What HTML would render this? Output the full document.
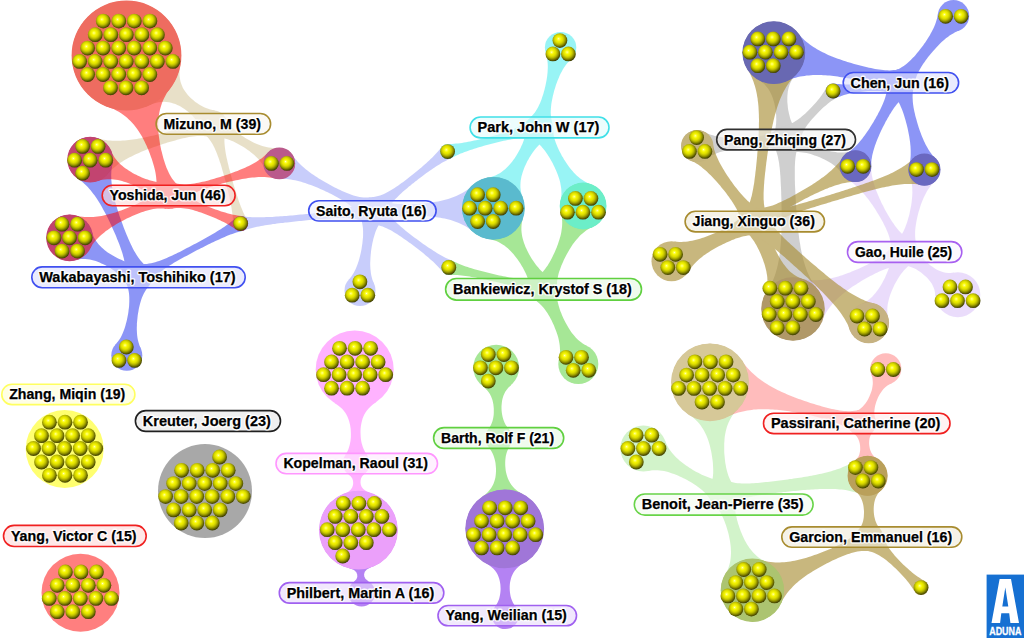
<!DOCTYPE html>
<html><head><meta charset="utf-8"><title>Cluster Map</title>
<style>
html,body{margin:0;padding:0;background:#fff;}
body{width:1024px;height:638px;overflow:hidden;font-family:"Liberation Sans",sans-serif;}
svg{display:block;}
svg text{font-family:"Liberation Sans",sans-serif;font-weight:bold;font-size:15px;}
svg text.h{fill:#fff;stroke:#fff;stroke-width:3px;stroke-linejoin:round;opacity:0.9;}
svg text.t{fill:#000;stroke:#000;stroke-width:0.25px;}
</style></head><body>
<svg width="1024" height="638" viewBox="0 0 1024 638">
<defs>
<radialGradient id="bg" cx="0.45" cy="0.41" r="0.62" fx="0.41" fy="0.38">
<stop offset="0" stop-color="#ffffe8"/><stop offset="0.07" stop-color="#ffff60"/><stop offset="0.25" stop-color="#f4f400"/>
<stop offset="0.42" stop-color="#e0e000"/><stop offset="0.58" stop-color="#bcbc00"/><stop offset="0.72" stop-color="#8e8e00"/><stop offset="0.85" stop-color="#5e5e00"/><stop offset="1" stop-color="#2e2e00"/>
</radialGradient>
<circle id="b" r="7.4" fill="url(#bg)"/>
</defs>
<rect width="1024" height="638" fill="#fff"/>
<g fill="#a88c30" opacity="0.26"><circle cx="126.5" cy="55.5" r="54.5"/><polygon points="180.2,64.9 179.7,68.9 179.5,72.5 179.5,75.7 179.9,78.6 180.4,81.2 181.1,83.6 182,85.8 182.9,87.9 184,89.8 185.2,91.6 186.5,93.3 187.8,94.9 189.2,96.4 190.7,97.9 192.2,99.3 193.7,100.6 195.3,101.9 197,103.1 198.7,104.2 200.4,105.3 202.2,106.3 204.1,107.3 206,108.1 208.1,108.8 210.2,109.5 212.4,109.9 214.7,110.3 213.4,123.9 200.5,128.4 199.6,126.2 198.6,124.1 197.5,122.2 196.3,120.5 195,118.8 193.7,117.2 192.3,115.6 190.8,114.2 189.3,112.8 187.8,111.5 186.1,110.2 184.5,109 182.8,107.9 181,106.8 179.2,105.8 177.3,104.9 175.4,104.1 173.4,103.4 171.2,102.7 169,102.3 166.7,102 164.2,101.8 161.5,101.9 158.6,102.3 155.5,103 152,104 148.3,105.5 126.5,55.5"/><circle cx="90.2" cy="159.6" r="22.5"/><polygon points="96.8,138.1 99.1,138.7 101.3,139.3 103.5,139.7 105.7,140.1 107.9,140.4 110.1,140.6 112.2,140.7 114.4,140.8 116.5,140.8 118.6,140.8 120.6,140.7 122.7,140.6 124.8,140.5 126.8,140.3 128.9,140.1 130.9,139.8 132.9,139.5 134.9,139.2 136.9,138.9 138.9,138.6 140.9,138.2 142.9,137.8 144.9,137.4 146.9,137 148.9,136.6 150.8,136.1 152.8,135.7 154.8,135.2 156.7,134.7 158.7,134.2 160.6,133.7 162.6,133.2 164.5,132.7 166.5,132.1 168.4,131.6 170.4,131 172.3,130.4 174.2,129.8 176.1,129.2 178.1,128.6 180,127.9 181.9,127.3 183.8,126.6 185.7,125.8 187.5,125 189.4,124.2 191.3,123.3 193.1,122.4 194.9,121.4 196.7,120.3 198.4,119.1 200.1,117.7 201.8,116.3 203.4,114.6 213.4,123.9 209.9,137 207.7,136.5 205.5,136.2 203.3,136 201.2,135.9 199.1,135.9 197,136 195,136.2 193,136.5 190.9,136.8 188.9,137.1 186.9,137.5 185,137.9 183,138.3 181,138.8 179.1,139.3 177.1,139.8 175.2,140.4 173.2,140.9 171.3,141.5 169.4,142 167.4,142.6 165.5,143.2 163.6,143.8 161.6,144.4 159.7,145.1 157.8,145.7 155.9,146.4 154,147 152.1,147.7 150.2,148.4 148.3,149.1 146.4,149.8 144.5,150.6 142.6,151.3 140.8,152.1 138.9,152.9 137,153.7 135.2,154.6 133.3,155.4 131.5,156.4 129.6,157.3 127.8,158.3 126,159.3 124.2,160.3 122.4,161.4 120.7,162.6 118.9,163.8 117.2,165 115.5,166.4 113.8,167.8 112.1,169.3 110.5,170.8 108.8,172.5 107.3,174.3 90.2,159.6"/><circle cx="279.3" cy="163.4" r="15.5"/><polygon points="265,169.4 263.9,167.2 262.8,165.1 261.5,163.1 260.2,161.3 258.8,159.6 257.3,158 255.8,156.5 254.3,155.1 252.7,153.7 251.1,152.4 249.4,151.1 247.8,149.9 246.1,148.7 244.3,147.6 242.6,146.5 240.8,145.4 239,144.4 237.2,143.4 235.3,142.5 233.5,141.6 231.5,140.8 229.6,140 227.6,139.3 225.6,138.7 223.5,138.2 221.3,137.8 219.1,137.5 216.7,137.4 214.3,137.5 213.4,123.9 225.8,118.3 226.9,120.5 228.1,122.5 229.4,124.3 230.8,126 232.2,127.6 233.7,129.1 235.3,130.6 236.9,131.9 238.5,133.2 240.1,134.5 241.8,135.7 243.6,136.8 245.3,137.9 247.1,139 248.9,140 250.7,141 252.5,142 254.4,142.9 256.3,143.7 258.2,144.5 260.2,145.3 262.2,146 264.2,146.6 266.3,147.1 268.5,147.5 270.7,147.8 273,148 275.4,148.1 277.9,147.9 279.3,163.4"/><circle cx="240.6" cy="223.6" r="7.5"/><polygon points="233.1,223.7 233,221.6 232.9,219.5 232.8,217.4 232.6,215.3 232.3,213.3 232,211.3 231.7,209.2 231.4,207.2 231,205.2 230.7,203.2 230.3,201.2 229.8,199.2 229.4,197.2 228.9,195.2 228.5,193.2 228,191.2 227.5,189.2 227,187.2 226.5,185.3 226,183.3 225.5,181.3 225,179.3 224.5,177.4 223.9,175.4 223.4,173.4 222.8,171.5 222.2,169.5 221.7,167.6 221.1,165.6 220.5,163.6 219.8,161.7 219.2,159.8 218.5,157.8 217.8,155.9 217.1,154 216.3,152.1 215.5,150.2 214.7,148.3 213.8,146.4 212.8,144.6 211.7,142.8 210.6,141 209.3,139.2 207.9,137.5 206.3,135.8 204.6,134.1 213.4,123.9 226.2,128.2 225.5,130.5 225,132.8 224.7,135 224.5,137.2 224.4,139.3 224.4,141.4 224.5,143.5 224.7,145.6 224.9,147.6 225.2,149.7 225.5,151.7 225.8,153.7 226.2,155.7 226.6,157.7 227.1,159.7 227.5,161.7 228,163.7 228.5,165.7 228.9,167.7 229.5,169.7 230,171.6 230.5,173.6 231,175.6 231.6,177.5 232.1,179.5 232.7,181.5 233.2,183.4 233.8,185.4 234.4,187.3 235,189.3 235.6,191.3 236.2,193.2 236.8,195.1 237.5,197.1 238.1,199 238.8,201 239.5,202.9 240.2,204.8 240.9,206.7 241.7,208.6 242.5,210.5 243.3,212.4 244.2,214.3 245.1,216.2 246.1,218 247.1,219.8 240.6,223.6"/><circle cx="213.4" cy="123.9" r="13.5"/></g>
<g fill="#202020" opacity="0.21"><circle cx="773.8" cy="52.7" r="31"/><polygon points="796.4,73.9 794.4,76.3 792.8,78.5 791.4,80.8 790.3,83 789.4,85.2 788.8,87.3 788.2,89.4 787.8,91.5 787.6,93.6 787.4,95.7 787.3,97.7 787.3,99.8 787.3,101.8 787.5,103.8 787.7,105.8 787.9,107.9 788.2,109.9 788.6,111.8 789,113.8 789.5,115.8 790,117.8 790.6,119.7 791.4,121.7 792.2,123.6 793.1,125.5 794.1,127.4 795.3,129.3 796.7,131.1 786.1,139.7 773.5,134.4 774.4,132.3 775,130.1 775.5,128 775.8,125.9 776.1,123.8 776.2,121.8 776.3,119.7 776.2,117.7 776.2,115.6 776,113.6 775.8,111.6 775.5,109.6 775.2,107.6 774.8,105.6 774.4,103.6 773.9,101.7 773.3,99.7 772.7,97.7 771.9,95.8 771.1,93.9 770.1,92 769,90.1 767.8,88.2 766.3,86.4 764.7,84.6 762.7,82.8 760.5,81.1 757.9,79.4 773.8,52.7"/><circle cx="833.1" cy="91" r="7.5"/><polygon points="836.7,97.6 834.9,98.7 833.1,99.9 831.3,101.1 829.6,102.3 828,103.6 826.4,104.9 824.8,106.2 823.2,107.6 821.7,109 820.2,110.4 818.7,111.9 817.3,113.4 815.9,114.9 814.5,116.4 813.1,117.9 811.7,119.5 810.4,121.1 809.1,122.7 807.8,124.3 806.6,126 805.4,127.8 804.3,129.6 803.3,131.4 802.3,133.4 801.4,135.4 800.6,137.5 800,139.7 799.4,142.1 786.1,139.7 783.3,126.5 785.6,125.9 787.8,125.1 789.9,124.3 791.9,123.3 793.8,122.2 795.6,121.1 797.3,119.9 799,118.7 800.7,117.4 802.3,116.1 803.9,114.8 805.4,113.4 806.9,112 808.4,110.5 809.9,109.1 811.3,107.6 812.7,106.1 814.1,104.6 815.5,103 816.8,101.4 818.2,99.8 819.5,98.2 820.7,96.6 821.9,94.9 823.1,93.1 824.2,91.4 825.3,89.5 826.3,87.6 833.1,91"/><circle cx="697.2" cy="146" r="15.7"/><polygon points="704.3,132 706.5,133 708.6,133.9 710.7,134.7 712.8,135.3 714.9,135.9 717,136.3 719,136.8 721.1,137.1 723.2,137.4 725.2,137.6 727.3,137.8 729.4,137.9 731.4,138 733.5,138.1 735.5,138.1 737.6,138.1 739.6,138.1 741.7,138 743.7,137.9 745.7,137.8 747.8,137.7 749.8,137.5 751.9,137.3 753.9,137.1 755.9,136.8 757.9,136.5 760,136.1 762,135.7 764,135.2 766,134.6 768,134 770,133.2 772,132.4 774,131.4 775.9,130.2 777.9,128.8 786.1,139.7 779.5,151.6 777.4,150.5 775.3,149.7 773.2,148.9 771.1,148.4 769,147.9 766.9,147.5 764.9,147.3 762.8,147.1 760.7,146.9 758.7,146.9 756.6,146.8 754.6,146.9 752.5,146.9 750.5,147 748.5,147.1 746.4,147.3 744.4,147.4 742.3,147.6 740.3,147.9 738.3,148.1 736.2,148.4 734.2,148.7 732.2,149.1 730.2,149.5 728.2,149.9 726.1,150.4 724.1,150.9 722.1,151.4 720.1,152.1 718.1,152.8 716.1,153.5 714.1,154.4 712.1,155.3 710.2,156.4 708.2,157.5 706.3,158.8 697.2,146"/><circle cx="793" cy="309" r="31.3"/><polygon points="766.9,291.7 768.2,289.7 769.4,287.6 770.6,285.5 771.6,283.5 772.5,281.4 773.4,279.3 774.2,277.3 774.9,275.2 775.6,273.2 776.2,271.1 776.8,269.1 777.3,267.1 777.8,265 778.2,263 778.6,260.9 779,258.9 779.3,256.9 779.6,254.8 779.8,252.8 780.1,250.8 780.3,248.7 780.5,246.7 780.7,244.7 780.8,242.7 781,240.6 781.1,238.6 781.2,236.6 781.3,234.6 781.4,232.5 781.4,230.5 781.5,228.5 781.5,226.5 781.6,224.4 781.6,222.4 781.6,220.4 781.6,218.4 781.6,216.4 781.6,214.3 781.6,212.3 781.6,210.3 781.6,208.3 781.5,206.3 781.5,204.2 781.5,202.2 781.4,200.2 781.4,198.2 781.3,196.2 781.2,194.1 781.2,192.1 781.1,190.1 781,188.1 780.9,186.1 780.8,184.1 780.7,182 780.6,180 780.5,178 780.4,176 780.2,174 780.1,172 779.9,170 779.7,167.9 779.4,165.9 779.2,163.9 778.9,161.9 778.5,159.9 778.1,157.9 777.7,155.9 777.1,153.9 776.5,151.9 775.8,149.9 775,147.9 774.1,145.9 786.1,139.7 798.6,144.9 797.8,147 797.2,149 796.6,151.1 796.2,153.1 795.8,155.2 795.5,157.2 795.3,159.2 795.1,161.2 795,163.3 794.9,165.3 794.8,167.3 794.8,169.3 794.8,171.4 794.8,173.4 794.8,175.4 794.8,177.4 794.8,179.4 794.9,181.5 794.9,183.5 795,185.5 795.1,187.5 795.2,189.5 795.3,191.6 795.4,193.6 795.5,195.6 795.6,197.6 795.7,199.6 795.8,201.6 795.9,203.7 796.1,205.7 796.2,207.7 796.3,209.7 796.5,211.7 796.6,213.7 796.8,215.7 797,217.8 797.1,219.8 797.3,221.8 797.5,223.8 797.7,225.8 797.9,227.8 798.1,229.8 798.4,231.8 798.6,233.9 798.9,235.9 799.1,237.9 799.4,239.9 799.7,241.9 800.1,243.9 800.4,245.9 800.7,247.9 801.1,249.9 801.5,251.9 802,253.9 802.4,255.9 802.9,257.9 803.4,259.9 804,261.9 804.6,263.9 805.2,265.9 805.9,267.9 806.6,269.9 807.4,271.9 808.3,273.9 809.2,275.9 810.1,277.8 811.2,279.8 812.3,281.8 813.5,283.8 814.7,285.7 816.1,287.7 817.6,289.7 793,309"/><circle cx="855.5" cy="166.2" r="15.5"/><polygon points="842.3,174.4 840.9,172.3 839.4,170.5 837.9,168.8 836.3,167.3 834.6,165.8 832.9,164.5 831.2,163.3 829.5,162.2 827.7,161.2 825.9,160.2 824,159.3 822.2,158.4 820.3,157.6 818.4,156.8 816.5,156.1 814.6,155.4 812.7,154.7 810.7,154.1 808.7,153.6 806.7,153.1 804.7,152.7 802.6,152.4 800.5,152.2 798.4,152 796.2,152 794,152.1 791.7,152.4 789.3,152.9 786.1,139.7 797.3,132 798.7,133.9 800.3,135.7 801.8,137.3 803.5,138.7 805.2,140 806.9,141.2 808.6,142.4 810.4,143.4 812.2,144.4 814.1,145.3 815.9,146.2 817.8,147 819.7,147.8 821.6,148.5 823.5,149.2 825.5,149.8 827.4,150.4 829.4,150.9 831.4,151.4 833.4,151.8 835.5,152.1 837.6,152.4 839.7,152.5 841.9,152.6 844.1,152.5 846.4,152.3 848.7,151.9 851.1,151.3 855.5,166.2"/><circle cx="786.1" cy="139.7" r="13.5"/></g>
<g fill="#a060f0" opacity="0.21"><circle cx="855.5" cy="166.2" r="15.5"/><polygon points="871,166.1 871.1,168.4 871.2,170.6 871.5,172.8 871.8,175 872.2,177.1 872.7,179.2 873.2,181.2 873.8,183.3 874.4,185.3 875,187.2 875.7,189.2 876.4,191.1 877.2,193 878,194.9 878.8,196.8 879.6,198.7 880.5,200.6 881.3,202.4 882.2,204.2 883.2,206.1 884.1,207.9 885,209.7 886,211.5 887,213.2 888,215 889.1,216.8 890.1,218.5 891.2,220.2 892.3,222 893.5,223.6 894.6,225.3 895.9,227 897.1,228.6 898.5,230.2 899.9,231.7 901.4,233.2 902.9,234.7 904.6,236.1 906.4,237.4 908.4,238.6 910.5,239.7 904.6,252 891,250.9 891.1,248.5 891.1,246.2 890.8,243.9 890.5,241.8 890,239.7 889.5,237.7 888.9,235.7 888.2,233.7 887.4,231.8 886.6,229.9 885.8,228 884.9,226.2 884,224.4 883.1,222.5 882.1,220.8 881.1,219 880.1,217.2 879.1,215.4 878,213.7 876.9,212 875.9,210.2 874.8,208.5 873.6,206.8 872.5,205.1 871.3,203.4 870.1,201.8 868.9,200.1 867.7,198.5 866.4,196.9 865.1,195.3 863.8,193.7 862.4,192.1 861,190.6 859.5,189.1 858,187.6 856.4,186.1 854.8,184.7 853.1,183.3 851.3,182 849.5,180.7 847.5,179.5 855.5,166.2"/><circle cx="924.4" cy="169.6" r="15.7"/><polygon points="935.1,181.2 933.4,182.8 931.8,184.5 930.4,186.2 929.1,188 927.9,189.8 926.8,191.6 925.8,193.4 924.9,195.2 924,197.1 923.1,198.9 922.4,200.8 921.6,202.7 920.9,204.6 920.3,206.5 919.7,208.4 919.1,210.4 918.5,212.3 918,214.2 917.5,216.2 917.1,218.1 916.7,220.1 916.3,222.1 916,224.1 915.7,226.1 915.4,228.1 915.2,230.1 915.1,232.1 915.1,234.2 915.1,236.3 915.3,238.4 915.5,240.5 916,242.7 916.5,244.9 917.3,247.1 904.6,252 895.5,241.9 897.2,240.2 898.7,238.5 900.1,236.8 901.3,235 902.4,233.2 903.4,231.4 904.3,229.5 905.1,227.7 905.8,225.8 906.5,223.9 907.2,222 907.8,220 908.3,218.1 908.9,216.2 909.4,214.2 909.8,212.3 910.2,210.3 910.6,208.3 911,206.3 911.3,204.4 911.6,202.4 911.8,200.4 912,198.3 912.2,196.3 912.3,194.3 912.4,192.2 912.3,190.2 912.3,188.1 912.1,186 911.8,183.8 911.5,181.7 911,179.5 910.4,177.3 909.7,175.1 924.4,169.6"/><circle cx="793" cy="309" r="31.3"/><polygon points="800.5,278.6 803,279.2 805.6,279.6 808,279.9 810.4,280.2 812.8,280.3 815.1,280.3 817.3,280.2 819.5,280.1 821.7,279.9 823.9,279.6 826,279.3 828.1,278.9 830.2,278.5 832.2,278.1 834.3,277.5 836.3,277 838.3,276.4 840.2,275.8 842.2,275.2 844.1,274.5 846.1,273.8 848,273.1 849.9,272.4 851.8,271.6 853.7,270.8 855.6,270 857.5,269.2 859.3,268.4 861.2,267.5 863,266.7 864.9,265.8 866.7,264.9 868.5,263.9 870.3,263 872.1,262 873.9,261 875.7,260 877.4,258.9 879.1,257.8 880.8,256.7 882.5,255.5 884.2,254.2 885.8,252.9 887.3,251.5 888.8,250 890.3,248.3 891.7,246.6 893,244.7 904.6,252 903.7,265.7 901.4,265.6 899.2,265.7 897,266 894.9,266.3 892.8,266.7 890.8,267.3 888.8,267.9 886.9,268.5 884.9,269.2 883,270 881.2,270.8 879.3,271.6 877.4,272.4 875.6,273.3 873.8,274.2 872,275.2 870.2,276.1 868.4,277.1 866.6,278.1 864.8,279.1 863,280.1 861.3,281.1 859.5,282.2 857.8,283.3 856.1,284.4 854.3,285.5 852.6,286.6 850.9,287.8 849.2,289 847.6,290.2 845.9,291.4 844.3,292.7 842.7,294 841.1,295.4 839.5,296.7 837.9,298.2 836.4,299.7 834.9,301.2 833.4,302.8 832,304.4 830.6,306.2 829.2,308 827.9,309.8 826.6,311.8 825.3,313.9 824.2,316.1 823,318.4 822,320.8 793,309"/><circle cx="868.7" cy="322.8" r="20"/><polygon points="861,304.3 863.3,303.2 865.5,302 867.5,300.7 869.3,299.3 870.9,297.9 872.5,296.4 873.9,294.8 875.3,293.2 876.6,291.6 877.8,289.9 879,288.2 880.1,286.5 881.2,284.7 882.2,282.9 883.2,281.1 884.2,279.3 885.1,277.5 885.9,275.6 886.7,273.7 887.5,271.8 888.2,269.9 888.9,267.9 889.5,266 890,263.9 890.5,261.9 890.8,259.7 891,257.5 891.1,255.3 891,253 904.6,252 911.8,263.5 909.9,264.8 908.1,266.2 906.5,267.7 905,269.2 903.6,270.8 902.3,272.4 901,274.1 899.8,275.8 898.7,277.5 897.6,279.3 896.6,281 895.6,282.8 894.6,284.6 893.7,286.5 892.9,288.3 892,290.2 891.3,292.1 890.5,294 889.8,296 889.2,298 888.7,300 888.2,302 887.8,304.1 887.5,306.3 887.3,308.5 887.3,310.7 887.4,313.1 887.7,315.5 888.2,318.1 868.7,322.8"/><circle cx="957.8" cy="294.7" r="22.5"/><polygon points="935.3,295.5 935,292.6 934.5,290 933.7,287.7 932.7,285.6 931.7,283.6 930.4,281.8 929.2,280.2 927.8,278.6 926.3,277.1 924.8,275.7 923.3,274.4 921.7,273.1 920,271.8 918.3,270.7 916.6,269.6 914.7,268.6 912.8,267.7 910.8,266.9 908.7,266.3 906.4,265.8 904,265.6 904.6,252 917.7,248.5 918.5,250.8 919.4,252.9 920.5,254.8 921.7,256.6 923,258.3 924.4,259.9 925.8,261.4 927.3,262.8 928.9,264.1 930.5,265.4 932.1,266.6 933.8,267.8 935.6,268.9 937.4,269.9 939.3,270.8 941.3,271.6 943.4,272.2 945.7,272.7 948.1,272.9 950.8,272.9 953.7,272.5 957.8,294.7"/><circle cx="904.6" cy="252" r="13.5"/></g>
<g fill="#3040f0" opacity="0.26"><circle cx="279.3" cy="163.4" r="15.5"/><polygon points="292.2,154.8 293.5,156.7 294.9,158.4 296.3,160.1 297.7,161.8 299.2,163.3 300.7,164.8 302.3,166.2 303.8,167.6 305.4,169 307.1,170.2 308.7,171.5 310.3,172.7 312,173.9 313.7,175.1 315.4,176.2 317.1,177.3 318.8,178.4 320.6,179.5 322.3,180.5 324,181.6 325.8,182.6 327.6,183.6 329.3,184.5 331.1,185.5 332.9,186.5 334.7,187.4 336.5,188.3 338.3,189.2 340.2,190.1 342,190.9 343.9,191.8 345.7,192.6 347.6,193.3 349.5,194.1 351.4,194.8 353.4,195.4 355.4,196 357.4,196.5 359.4,196.9 361.5,197.3 363.7,197.5 365.9,197.6 368.2,197.6 370.6,197.3 372.4,210.8 360.4,217.3 359.2,215.2 357.9,213.3 356.5,211.6 355.1,210 353.6,208.5 352,207.1 350.4,205.7 348.8,204.5 347.1,203.3 345.4,202.1 343.7,201 342,199.9 340.2,198.9 338.5,197.9 336.7,196.9 334.9,196 333.1,195 331.3,194.1 329.5,193.2 327.7,192.3 325.8,191.4 324,190.6 322.2,189.7 320.3,188.9 318.4,188.1 316.6,187.3 314.7,186.5 312.8,185.8 310.9,185.1 309,184.4 307,183.7 305.1,183 303.1,182.4 301.2,181.8 299.2,181.3 297.1,180.8 295.1,180.3 293,179.9 290.9,179.6 288.8,179.3 286.7,179 284.5,178.9 282.2,178.9 279.9,178.9 279.3,163.4"/><circle cx="240.6" cy="223.6" r="7.5"/><polygon points="241.8,216.2 243.9,216.5 245.9,216.7 247.9,216.9 250,217.1 252,217.2 254.1,217.3 256.1,217.3 258.1,217.3 260.1,217.3 262.2,217.3 264.2,217.2 266.2,217.1 268.2,217.1 270.2,217 272.2,216.9 274.3,216.7 276.3,216.6 278.3,216.5 280.3,216.3 282.3,216.2 284.3,216 286.3,215.9 288.3,215.7 290.3,215.5 292.3,215.4 294.4,215.2 296.4,215 298.4,214.8 300.4,214.6 302.4,214.4 304.4,214.2 306.4,214 308.4,213.9 310.4,213.7 312.4,213.4 314.4,213.2 316.4,213 318.4,212.8 320.4,212.6 322.4,212.4 324.4,212.1 326.4,211.9 328.4,211.6 330.4,211.4 332.4,211.1 334.4,210.8 336.4,210.5 338.4,210.1 340.4,209.8 342.4,209.4 344.4,208.9 346.4,208.5 348.3,207.9 350.3,207.3 352.3,206.7 354.2,206 356.2,205.1 358.1,204.2 360,203.1 361.9,201.8 363.8,200.4 372.4,210.8 366,222.7 363.8,221.6 361.7,220.8 359.6,220.1 357.6,219.5 355.5,219.1 353.4,218.7 351.4,218.4 349.3,218.2 347.3,218.1 345.3,218 343.2,218 341.2,218 339.2,218 337.2,218.1 335.1,218.1 333.1,218.2 331.1,218.3 329.1,218.5 327.1,218.6 325.1,218.7 323.1,218.9 321.1,219 319.1,219.2 317,219.4 315,219.6 313,219.7 311,219.9 309,220.1 307,220.3 305,220.5 303,220.7 301,220.9 299,221.1 297,221.3 295,221.5 293,221.7 291,222 289,222.2 287,222.4 285,222.6 283,222.9 281,223.1 278.9,223.3 276.9,223.6 274.9,223.9 272.9,224.1 271,224.4 269,224.7 267,225 265,225.3 263,225.7 261,226 259,226.4 257,226.8 255,227.2 253,227.7 251.1,228.2 249.1,228.7 247.1,229.3 245.2,229.9 243.2,230.6 240.6,223.6"/><circle cx="360" cy="290.5" r="15.5"/><polygon points="348.5,280 350.1,278.2 351.4,276.4 352.7,274.5 353.8,272.7 354.8,270.8 355.7,268.9 356.5,267 357.3,265 358,263.1 358.6,261.2 359.2,259.2 359.7,257.2 360.2,255.3 360.7,253.3 361.1,251.3 361.5,249.3 361.8,247.3 362.1,245.3 362.4,243.3 362.6,241.3 362.8,239.3 363,237.3 363.1,235.3 363.1,233.2 363.1,231.2 363,229.1 362.8,227 362.5,224.9 362.1,222.8 361.6,220.7 360.9,218.6 360,216.4 372.4,210.8 382.5,219.9 381,221.7 379.7,223.5 378.5,225.4 377.5,227.3 376.6,229.2 375.8,231.1 375.1,233 374.5,235 373.9,236.9 373.3,238.9 372.9,240.9 372.4,242.9 372.1,244.8 371.7,246.8 371.4,248.8 371.1,250.8 370.9,252.8 370.7,254.8 370.5,256.9 370.4,258.9 370.3,260.9 370.2,263 370.2,265 370.3,267.1 370.4,269.1 370.7,271.2 370.9,273.3 371.3,275.4 371.8,277.5 372.4,279.7 373.2,281.8 374.1,284 360,290.5"/><circle cx="447.6" cy="151.6" r="7.5"/><polygon points="450.6,158.5 448.7,159.3 446.9,160.2 445,161.2 443.3,162.1 441.5,163.1 439.8,164.2 438,165.2 436.3,166.3 434.6,167.4 433,168.5 431.3,169.7 429.7,170.8 428,172 426.4,173.1 424.8,174.3 423.2,175.5 421.6,176.7 419.9,177.9 418.4,179.1 416.8,180.4 415.2,181.6 413.6,182.9 412,184.1 410.5,185.4 408.9,186.6 407.4,187.9 405.9,189.2 404.3,190.5 402.8,191.8 401.3,193.2 399.9,194.6 398.4,196 397,197.4 395.6,198.8 394.2,200.3 392.8,201.9 391.6,203.5 390.3,205.1 389.1,206.9 388,208.7 387,210.7 386.1,212.7 385.3,214.9 372.4,210.8 371.4,197.3 373.7,197.1 376,196.6 378.1,196.1 380.1,195.5 382.1,194.7 384,193.9 385.9,193 387.7,192.1 389.5,191.1 391.2,190.1 392.9,189 394.6,187.9 396.3,186.8 398,185.7 399.6,184.5 401.2,183.3 402.9,182.2 404.5,181 406.1,179.8 407.7,178.5 409.2,177.3 410.8,176.1 412.4,174.8 414,173.6 415.5,172.3 417.1,171 418.6,169.7 420.1,168.5 421.7,167.2 423.2,165.8 424.7,164.5 426.2,163.2 427.7,161.8 429.2,160.5 430.6,159.1 432.1,157.7 433.5,156.3 434.9,154.8 436.3,153.3 437.7,151.8 439,150.3 440.3,148.7 441.6,147.1 447.6,151.6"/><circle cx="493.4" cy="208.3" r="31"/><polygon points="473.3,231.9 471.3,230.2 469.2,228.7 467.1,227.3 465.1,226.1 463,225 461,223.9 458.9,223 456.9,222.2 454.8,221.4 452.8,220.7 450.7,220.1 448.7,219.5 446.6,219 444.6,218.6 442.5,218.2 440.5,217.8 438.5,217.5 436.4,217.2 434.4,216.9 432.4,216.7 430.3,216.5 428.3,216.3 426.2,216.2 424.2,216.1 422.2,216 420.1,215.9 418.1,215.8 416.1,215.8 414,215.8 412,215.8 410,215.8 407.9,215.9 405.9,216 403.9,216.1 401.9,216.2 399.8,216.4 397.8,216.7 395.8,217 393.8,217.3 391.7,217.7 389.7,218.2 387.7,218.8 385.7,219.5 383.7,220.3 381.6,221.3 379.6,222.4 372.4,210.8 379.1,198.9 381.2,199.9 383.2,200.8 385.3,201.6 387.3,202.2 389.4,202.7 391.4,203.1 393.5,203.4 395.5,203.7 397.5,203.9 399.6,204 401.6,204.1 403.6,204.2 405.7,204.2 407.7,204.2 409.7,204.2 411.8,204.2 413.8,204.1 415.8,204 417.9,203.9 419.9,203.7 421.9,203.6 424,203.4 426,203.2 428,203 430,202.7 432.1,202.4 434.1,202.1 436.1,201.8 438.1,201.4 440.2,201 442.2,200.5 444.2,200 446.2,199.5 448.2,198.9 450.3,198.3 452.3,197.6 454.3,196.8 456.3,196 458.3,195 460.3,194 462.4,192.9 464.4,191.7 466.4,190.4 468.4,188.9 470.4,187.3 472.4,185.5 493.4,208.3"/><circle cx="448.8" cy="267.4" r="7.5"/><polygon points="442.9,272.1 441.6,270.5 440.2,268.9 438.8,267.4 437.4,265.9 435.9,264.4 434.5,263 433,261.6 431.4,260.2 429.9,258.9 428.4,257.5 426.8,256.2 425.2,254.9 423.7,253.6 422.1,252.3 420.5,251.1 418.9,249.8 417.3,248.5 415.6,247.3 414,246.1 412.4,244.8 410.8,243.6 409.1,242.4 407.5,241.2 405.8,240 404.1,238.9 402.5,237.7 400.8,236.6 399.1,235.4 397.4,234.3 395.6,233.2 393.9,232.2 392.1,231.1 390.3,230.1 388.5,229.2 386.6,228.3 384.7,227.4 382.7,226.6 380.7,226 378.6,225.3 376.5,224.9 374.2,224.5 371.8,224.3 372.4,210.8 385.1,206.3 386,208.5 387,210.6 388.1,212.5 389.3,214.3 390.6,216.1 391.9,217.7 393.3,219.3 394.7,220.8 396.1,222.3 397.6,223.7 399.1,225.1 400.6,226.5 402.2,227.8 403.7,229.1 405.3,230.4 406.9,231.7 408.5,233 410.1,234.2 411.7,235.5 413.3,236.7 415,237.9 416.6,239.1 418.3,240.3 419.9,241.5 421.6,242.7 423.2,243.9 424.9,245.1 426.6,246.2 428.3,247.4 430,248.5 431.7,249.6 433.4,250.7 435.1,251.8 436.9,252.9 438.6,253.9 440.4,255 442.2,256 444,256.9 445.9,257.9 447.7,258.8 449.6,259.6 451.6,260.4 448.8,267.4"/><circle cx="372.4" cy="210.8" r="13.5"/></g>
<g fill="#50d030" opacity="0.25"><circle cx="710" cy="382.3" r="38.5"/><polygon points="737.7,409.1 735.6,411.3 733.8,413.6 732.2,415.8 730.9,418 729.7,420.2 728.6,422.4 727.8,424.5 727,426.6 726.4,428.7 725.8,430.9 725.4,432.9 725,435 724.7,437.1 724.5,439.2 724.4,441.2 724.2,443.3 724.2,445.4 724.2,447.4 724.2,449.5 724.2,451.5 724.3,453.5 724.5,455.6 724.7,457.6 724.9,459.6 725.1,461.6 725.4,463.6 725.8,465.6 726.1,467.6 726.6,469.6 727.1,471.6 727.7,473.6 728.3,475.6 729.1,477.5 730,479.5 731,481.4 732.1,483.3 733.4,485.2 722.5,493.5 710,487.9 710.9,485.7 711.6,483.6 712.1,481.5 712.5,479.4 712.8,477.3 713,475.3 713.2,473.2 713.2,471.1 713.2,469.1 713.1,467.1 713,465 712.9,463 712.7,461 712.4,459 712.1,456.9 711.8,454.9 711.5,452.9 711.1,450.9 710.6,448.9 710.2,446.9 709.7,444.9 709.1,443 708.5,441 707.8,439 707,437.1 706.2,435.1 705.3,433.2 704.3,431.2 703.2,429.3 702,427.4 700.7,425.5 699.2,423.6 697.6,421.8 695.8,419.9 693.7,418.1 691.5,416.3 688.9,414.5 710,382.3"/><circle cx="643.4" cy="448.4" r="23"/><polygon points="665.1,440.7 666,443.1 667.1,445.4 668.2,447.5 669.5,449.4 670.8,451.3 672.1,453 673.5,454.6 675,456.2 676.5,457.7 678,459.1 679.5,460.5 681.1,461.8 682.7,463 684.4,464.3 686,465.5 687.7,466.6 689.4,467.7 691.1,468.8 692.9,469.9 694.6,470.9 696.4,471.9 698.2,472.8 700,473.8 701.8,474.7 703.7,475.5 705.6,476.3 707.5,477.1 709.4,477.7 711.4,478.4 713.4,478.9 715.5,479.3 717.7,479.6 719.9,479.8 722.2,479.9 722.5,493.5 710.6,500.2 709.4,498.2 708.1,496.4 706.7,494.7 705.3,493.2 703.8,491.7 702.3,490.3 700.7,488.9 699.1,487.7 697.4,486.5 695.8,485.3 694.1,484.2 692.3,483.1 690.6,482 688.8,481 687.1,480 685.3,479.1 683.5,478.2 681.6,477.3 679.8,476.4 677.9,475.6 676,474.8 674.1,474.1 672.2,473.4 670.2,472.7 668.2,472.1 666.2,471.6 664.1,471.1 662,470.8 659.8,470.5 657.6,470.3 655.3,470.2 652.9,470.3 650.4,470.6 647.8,471 643.4,448.4"/><circle cx="867.6" cy="475.8" r="19.6"/><polygon points="860.4,494 858.2,493.2 856.1,492.5 854,491.9 851.9,491.4 849.9,490.9 847.8,490.5 845.7,490.1 843.7,489.8 841.6,489.6 839.6,489.4 837.5,489.2 835.5,489.1 833.4,489 831.4,489 829.4,488.9 827.4,488.9 825.3,488.9 823.3,489 821.3,489 819.3,489.1 817.3,489.2 815.3,489.3 813.3,489.4 811.3,489.5 809.3,489.7 807.2,489.8 805.2,490 803.2,490.1 801.2,490.3 799.2,490.5 797.2,490.7 795.2,490.9 793.2,491.1 791.2,491.3 789.2,491.5 787.2,491.7 785.3,491.9 783.3,492.1 781.3,492.4 779.3,492.6 777.3,492.8 775.3,493.1 773.3,493.3 771.3,493.6 769.3,493.8 767.3,494.1 765.3,494.4 763.3,494.7 761.4,495 759.4,495.3 757.4,495.6 755.4,496 753.4,496.3 751.5,496.7 749.5,497.1 747.5,497.6 745.6,498.1 743.6,498.6 741.6,499.2 739.7,499.9 737.8,500.6 735.8,501.4 733.9,502.4 732,503.4 730.2,504.6 722.5,493.5 727.3,480.8 729.4,481.6 731.5,482.1 733.5,482.6 735.6,482.9 737.7,483.2 739.7,483.3 741.7,483.4 743.8,483.5 745.8,483.5 747.8,483.5 749.8,483.4 751.8,483.3 753.8,483.2 755.9,483.1 757.9,482.9 759.9,482.7 761.9,482.5 763.9,482.3 765.9,482.1 767.9,481.9 769.8,481.7 771.8,481.5 773.8,481.2 775.8,481 777.8,480.7 779.8,480.5 781.8,480.2 783.8,480 785.8,479.7 787.8,479.4 789.8,479.1 791.8,478.9 793.7,478.6 795.7,478.3 797.7,478 799.7,477.7 801.7,477.4 803.7,477 805.6,476.7 807.6,476.4 809.6,476 811.6,475.7 813.6,475.3 815.5,474.9 817.5,474.5 819.5,474.1 821.5,473.7 823.4,473.2 825.4,472.7 827.4,472.2 829.3,471.7 831.3,471.2 833.2,470.6 835.2,470 837.1,469.3 839.1,468.7 841,467.9 842.9,467.1 844.8,466.3 846.8,465.4 848.7,464.5 850.6,463.4 852.4,462.3 854.3,461.1 856.2,459.9 867.6,475.8"/><circle cx="752.4" cy="590.2" r="31.3"/><polygon points="725.3,574.5 726.6,572 727.8,569.5 728.7,567.1 729.4,564.7 730,562.4 730.4,560.2 730.7,557.9 730.9,555.8 731,553.6 731,551.5 730.9,549.4 730.8,547.3 730.6,545.2 730.3,543.2 730,541.1 729.6,539.1 729.2,537.1 728.8,535.1 728.3,533.1 727.8,531.2 727.2,529.2 726.6,527.2 726,525.3 725.3,523.4 724.6,521.5 723.8,519.6 723,517.7 722.1,515.8 721.2,514 720.2,512.2 719.1,510.4 717.8,508.6 716.5,506.9 715,505.3 713.4,503.6 722.5,493.5 735.8,496.7 735.3,499 735,501.2 734.9,503.4 734.9,505.5 735,507.6 735.1,509.7 735.4,511.7 735.7,513.8 736.1,515.8 736.6,517.8 737,519.8 737.6,521.7 738.1,523.7 738.8,525.6 739.4,527.6 740.1,529.5 740.8,531.4 741.6,533.3 742.4,535.2 743.2,537 744.1,538.9 745,540.7 746,542.6 747.1,544.4 748.2,546.1 749.4,547.9 750.7,549.6 752.1,551.3 753.6,553 755.2,554.6 757,556.2 758.9,557.7 761.1,559.2 763.4,560.6 765.9,562 752.4,590.2"/><circle cx="722.5" cy="493.5" r="13.5"/></g>
<g fill="#ff0000" opacity="0.26"><circle cx="710" cy="382.3" r="38.5"/><polygon points="741.8,360.6 743.3,362.7 744.9,364.8 746.4,366.7 748,368.5 749.7,370.3 751.3,372 753,373.6 754.7,375.1 756.4,376.5 758.1,377.9 759.9,379.3 761.6,380.6 763.4,381.8 765.2,383 767,384.1 768.8,385.2 770.6,386.3 772.4,387.3 774.3,388.3 776.1,389.2 778,390.2 779.8,391.1 781.7,391.9 783.6,392.8 785.4,393.6 787.3,394.4 789.2,395.2 791.1,396 793,396.7 794.9,397.5 796.8,398.2 798.7,398.9 800.7,399.6 802.6,400.3 804.5,400.9 806.4,401.6 808.4,402.2 810.3,402.9 812.2,403.5 814.2,404.1 816.1,404.7 818,405.3 820,405.8 822,406.4 823.9,406.9 825.9,407.4 827.8,407.9 829.8,408.4 831.8,408.9 833.8,409.3 835.8,409.7 837.8,410.1 839.8,410.4 841.8,410.7 843.8,410.9 845.9,411.1 848,411.2 850.1,411.2 852.2,411.1 854.4,410.8 856.6,410.5 858.8,409.9 862.5,423.2 852.7,432.9 851,431.3 849.3,429.8 847.5,428.6 845.7,427.4 843.9,426.4 842.1,425.4 840.2,424.5 838.3,423.7 836.4,422.9 834.5,422.2 832.6,421.5 830.7,420.8 828.7,420.2 826.8,419.6 824.9,419.1 822.9,418.5 820.9,418 819,417.5 817,417 815,416.5 813.1,416 811.1,415.6 809.1,415.1 807.1,414.7 805.1,414.3 803.1,413.8 801.1,413.4 799.1,413.1 797.1,412.7 795.1,412.3 793.1,412 791.1,411.7 789.1,411.3 787.1,411 785.1,410.8 783,410.5 781,410.3 778.9,410 776.9,409.8 774.8,409.7 772.8,409.5 770.7,409.4 768.6,409.3 766.6,409.2 764.5,409.2 762.4,409.2 760.2,409.2 758.1,409.3 756,409.5 753.8,409.6 751.7,409.9 749.5,410.2 747.3,410.5 745.1,410.9 742.9,411.4 740.6,411.9 738.3,412.5 736.1,413.2 733.7,414 731.4,414.9 729,415.9 726.6,417 710,382.3"/><circle cx="885.8" cy="368.8" r="15.5"/><polygon points="891.7,383.2 889.2,384.4 887.1,385.7 885.3,387.2 883.7,388.8 882.3,390.4 881.1,392.2 879.9,393.9 878.9,395.7 878,397.6 877.2,399.5 876.4,401.4 875.8,403.4 875.2,405.4 874.8,407.5 874.5,409.6 874.3,411.8 874.4,414 874.7,416.4 875.4,419 862.5,423.2 856.7,411 859,409.7 860.9,408.3 862.6,406.8 864.1,405.1 865.4,403.5 866.6,401.7 867.7,399.9 868.7,398.1 869.5,396.2 870.3,394.3 871,392.4 871.7,390.4 872.2,388.3 872.5,386.3 872.8,384.1 872.8,381.9 872.6,379.5 872.2,377.1 871.3,374.5 885.8,368.8"/><circle cx="867.6" cy="475.8" r="19.6"/><polygon points="854.8,460.9 857,458.6 858.5,456.4 859.4,454.2 859.9,452.1 860.2,450 860.2,447.9 860.1,445.8 859.8,443.8 859.3,441.7 858.6,439.7 857.6,437.7 856.2,435.8 854.2,433.9 862.5,423.2 872.7,432.1 871.1,434.3 870.1,436.5 869.5,438.6 869.2,440.8 869.1,442.9 869.2,444.9 869.5,447 869.9,449 870.6,451.1 871.5,453.1 872.8,455 874.7,456.9 877.3,458.7 867.6,475.8"/><circle cx="862.5" cy="423.2" r="13.5"/></g>
<g fill="#a88c30" opacity="0.62"><circle cx="773.8" cy="52.7" r="31"/><polygon points="796,74.4 794.2,76.2 792.6,78.1 791.1,79.9 789.7,81.8 788.3,83.7 787.1,85.6 785.9,87.5 784.8,89.4 783.8,91.3 782.8,93.3 781.9,95.2 781,97.2 780.2,99.1 779.4,101.1 778.7,103 778,105 777.3,106.9 776.7,108.9 776.1,110.9 775.6,112.9 775,114.8 774.5,116.8 774,118.8 773.5,120.8 773.1,122.8 772.6,124.8 772.2,126.8 771.8,128.8 771.4,130.8 771,132.8 770.6,134.7 770.3,136.7 769.9,138.7 769.6,140.8 769.2,142.8 768.9,144.8 768.6,146.8 768.3,148.8 768,150.8 767.7,152.8 767.4,154.8 767.1,156.8 766.9,158.8 766.6,160.8 766.3,162.8 766.1,164.8 765.8,166.9 765.6,168.9 765.4,170.9 765.1,172.9 764.9,174.9 764.7,176.9 764.5,178.9 764.3,181 764.2,183 764,185 763.9,187 763.8,189.1 763.7,191.1 763.6,193.1 763.6,195.2 763.6,197.2 763.6,199.2 763.8,201.3 763.9,203.4 764.2,205.4 764.5,207.5 765,209.6 765.5,211.7 766.2,213.8 767.1,216 754.8,221.6 744,213.4 745.4,211.5 746.5,209.6 747.6,207.6 748.5,205.7 749.3,203.7 750,201.8 750.6,199.8 751.1,197.8 751.7,195.9 752.1,193.9 752.5,191.9 752.9,189.9 753.3,187.9 753.6,185.9 754,183.9 754.3,181.9 754.5,179.9 754.8,177.8 755.1,175.8 755.3,173.8 755.5,171.8 755.8,169.8 756,167.8 756.2,165.8 756.4,163.7 756.6,161.7 756.8,159.7 757,157.7 757.2,155.7 757.3,153.7 757.5,151.6 757.7,149.6 757.8,147.6 758,145.6 758.1,143.5 758.2,141.5 758.4,139.5 758.5,137.5 758.6,135.4 758.7,133.4 758.7,131.4 758.8,129.3 758.9,127.3 758.9,125.3 758.9,123.2 759,121.2 759,119.2 758.9,117.1 758.9,115.1 758.8,113 758.7,111 758.6,108.9 758.5,106.9 758.3,104.8 758.1,102.7 757.8,100.7 757.6,98.6 757.2,96.5 756.9,94.4 756.5,92.4 756,90.3 755.5,88.2 754.9,86.1 754.2,83.9 753.5,81.8 752.7,79.7 751.8,77.6 750.9,75.4 749.8,73.2 748.6,71.1 747.4,68.9 773.8,52.7"/><circle cx="697.2" cy="146" r="15.7"/><polygon points="712.7,143.3 713.1,145.5 713.6,147.6 714.2,149.7 714.9,151.8 715.6,153.8 716.4,155.7 717.2,157.6 718.1,159.5 719,161.4 719.9,163.2 720.9,165 721.9,166.8 722.9,168.6 724,170.3 725,172 726.1,173.7 727.2,175.4 728.3,177.1 729.5,178.8 730.6,180.5 731.8,182.1 733,183.7 734.2,185.4 735.4,187 736.7,188.6 738,190.2 739.2,191.7 740.5,193.3 741.9,194.8 743.2,196.3 744.6,197.8 746.1,199.3 747.5,200.7 749.1,202 750.7,203.4 752.3,204.7 754.1,205.9 755.9,207 757.9,208.1 760,209 754.8,221.6 741.3,223.2 740.9,221 740.4,218.8 739.8,216.7 739.1,214.7 738.3,212.8 737.5,210.9 736.6,209 735.6,207.2 734.6,205.5 733.5,203.7 732.4,202 731.3,200.3 730.1,198.7 729,197 727.8,195.4 726.6,193.8 725.3,192.1 724.1,190.6 722.8,189 721.5,187.4 720.3,185.8 718.9,184.3 717.6,182.8 716.3,181.2 714.9,179.7 713.5,178.2 712.1,176.8 710.7,175.3 709.2,173.9 707.8,172.5 706.3,171.1 704.7,169.7 703.1,168.4 701.5,167.1 699.8,165.8 698.1,164.6 696.3,163.4 694.4,162.3 692.5,161.2 690.5,160.2 697.2,146"/><circle cx="855.5" cy="166.2" r="15.5"/><polygon points="855.8,181.7 853.5,181.8 851.3,182 849.2,182.2 847.1,182.5 845,182.9 842.9,183.3 840.9,183.8 838.9,184.4 836.9,185 835,185.6 833.1,186.2 831.2,186.9 829.3,187.6 827.4,188.4 825.5,189.1 823.6,189.9 821.8,190.7 820,191.5 818.1,192.4 816.3,193.2 814.5,194.1 812.7,195 810.9,195.8 809.1,196.7 807.3,197.7 805.5,198.6 803.7,199.5 802,200.4 800.2,201.4 798.4,202.4 796.7,203.3 794.9,204.3 793.2,205.3 791.4,206.3 789.7,207.3 788,208.4 786.3,209.5 784.6,210.6 782.9,211.7 781.3,212.8 779.7,214 778,215.3 776.5,216.5 774.9,217.9 773.4,219.3 771.9,220.8 770.5,222.4 769.2,224.1 767.9,226 766.7,228 754.8,221.6 755.8,208.1 758.1,208.2 760.4,208.1 762.5,207.9 764.6,207.5 766.7,207.1 768.7,206.6 770.7,206 772.6,205.4 774.5,204.7 776.4,203.9 778.2,203.1 780.1,202.3 781.9,201.5 783.7,200.6 785.5,199.7 787.3,198.8 789.1,197.9 790.9,197 792.6,196 794.4,195.1 796.2,194.1 797.9,193.1 799.7,192.1 801.4,191.1 803.1,190.1 804.9,189.1 806.6,188 808.3,187 810,185.9 811.7,184.9 813.4,183.8 815.1,182.7 816.8,181.6 818.4,180.4 820.1,179.3 821.7,178.1 823.4,176.9 825,175.7 826.6,174.4 828.2,173.1 829.7,171.8 831.3,170.5 832.8,169.1 834.3,167.6 835.8,166.1 837.2,164.6 838.6,163 840,161.3 841.3,159.5 842.5,157.7 855.5,166.2"/><circle cx="924.4" cy="169.6" r="15.7"/><polygon points="921.4,185 919.2,184.6 917,184.3 914.8,184.1 912.7,184 910.6,183.9 908.5,184 906.4,184 904.3,184.1 902.3,184.3 900.2,184.5 898.2,184.7 896.2,185 894.2,185.3 892.2,185.6 890.2,186 888.2,186.4 886.2,186.8 884.3,187.2 882.3,187.6 880.3,188.1 878.4,188.5 876.4,189 874.5,189.5 872.5,190 870.6,190.5 868.6,191 866.7,191.5 864.8,192.1 862.8,192.6 860.9,193.1 859,193.7 857,194.2 855.1,194.8 853.2,195.3 851.2,195.9 849.3,196.5 847.4,197 845.4,197.6 843.5,198.2 841.6,198.7 839.7,199.3 837.8,199.9 835.8,200.5 833.9,201 832,201.6 830.1,202.2 828.1,202.8 826.2,203.4 824.3,204 822.4,204.5 820.5,205.1 818.5,205.7 816.6,206.3 814.7,206.9 812.8,207.5 810.9,208.1 809,208.7 807.1,209.3 805.1,210 803.2,210.6 801.3,211.2 799.4,211.9 797.5,212.5 795.6,213.2 793.7,213.8 791.8,214.5 789.9,215.2 788.1,215.9 786.2,216.7 784.3,217.5 782.5,218.3 780.6,219.1 778.8,220 777,221 775.2,222 773.5,223.1 771.7,224.2 770,225.5 768.3,227 766.7,228.5 765.2,230.3 754.8,221.6 758.5,208.6 760.8,209.2 763,209.6 765.2,209.8 767.3,209.9 769.4,209.9 771.5,209.8 773.6,209.7 775.6,209.5 777.6,209.2 779.6,208.8 781.6,208.5 783.6,208.1 785.5,207.6 787.5,207.2 789.4,206.7 791.4,206.2 793.3,205.7 795.3,205.2 797.2,204.7 799.1,204.1 801.1,203.6 803,203 804.9,202.5 806.9,201.9 808.8,201.3 810.7,200.7 812.6,200.2 814.6,199.6 816.5,199 818.4,198.4 820.3,197.8 822.2,197.3 824.2,196.7 826.1,196.1 828,195.5 829.9,194.9 831.8,194.3 833.8,193.7 835.7,193.1 837.6,192.5 839.5,191.9 841.4,191.3 843.3,190.7 845.2,190.1 847.2,189.4 849.1,188.8 851,188.2 852.9,187.6 854.8,187 856.7,186.3 858.6,185.7 860.5,185.1 862.4,184.4 864.3,183.8 866.2,183.1 868.1,182.5 870,181.8 871.9,181.1 873.8,180.4 875.7,179.7 877.6,179 879.4,178.3 881.3,177.5 883.2,176.8 885,176 886.9,175.2 888.7,174.4 890.6,173.5 892.4,172.7 894.2,171.8 896,170.8 897.8,169.8 899.6,168.8 901.4,167.8 903.2,166.6 904.9,165.5 906.6,164.2 908.3,162.9 910,161.6 911.7,160.1 913.3,158.5 924.4,169.6"/><circle cx="671.5" cy="261.2" r="20"/><polygon points="674.5,241.4 676.9,241.7 679.2,241.9 681.5,241.9 683.7,241.8 685.8,241.7 687.9,241.4 690,241.1 692.1,240.8 694.1,240.3 696.1,239.8 698.1,239.3 700,238.7 702,238.1 703.9,237.4 705.8,236.8 707.7,236.1 709.6,235.3 711.5,234.6 713.3,233.8 715.2,233 717,232.1 718.8,231.3 720.7,230.4 722.5,229.5 724.3,228.6 726,227.6 727.8,226.6 729.6,225.6 731.3,224.5 733,223.4 734.7,222.3 736.3,221 737.9,219.7 739.5,218.3 741,216.8 742.5,215.2 743.9,213.5 754.8,221.6 754.2,235.2 752,235.2 749.8,235.3 747.7,235.5 745.6,235.9 743.6,236.3 741.6,236.8 739.6,237.4 737.7,238 735.7,238.6 733.9,239.4 732,240.1 730.1,240.9 728.3,241.7 726.4,242.5 724.6,243.4 722.8,244.2 721,245.2 719.2,246.1 717.4,247 715.6,248 713.9,249 712.1,250 710.4,251.1 708.7,252.2 707,253.3 705.3,254.4 703.6,255.6 702,256.9 700.3,258.2 698.8,259.5 697.2,260.9 695.7,262.4 694.2,264 692.7,265.7 691.4,267.4 690,269.3 688.8,271.3 671.5,261.2"/><circle cx="793" cy="309" r="31.3"/><polygon points="764.3,296.5 765.3,293.8 766.1,291.3 766.7,288.9 767.1,286.5 767.3,284.2 767.4,281.9 767.4,279.8 767.3,277.6 767.1,275.5 766.7,273.5 766.4,271.4 765.9,269.4 765.4,267.5 764.9,265.5 764.3,263.6 763.6,261.7 763,259.7 762.3,257.9 761.5,256 760.7,254.1 759.9,252.3 759.1,250.5 758.2,248.7 757.3,246.9 756.3,245.1 755.3,243.4 754.2,241.6 753.1,239.9 751.8,238.3 750.6,236.6 749.2,235 747.7,233.5 746,232 754.8,221.6 768.4,222.2 768.4,224.4 768.5,226.6 768.7,228.7 769,230.7 769.4,232.8 769.9,234.8 770.5,236.7 771,238.7 771.7,240.6 772.4,242.5 773.1,244.3 773.9,246.2 774.7,248.1 775.5,249.9 776.4,251.7 777.3,253.5 778.2,255.3 779.2,257.1 780.2,258.8 781.2,260.5 782.4,262.3 783.5,263.9 784.8,265.6 786.1,267.2 787.4,268.8 788.9,270.4 790.5,271.9 792.2,273.3 794.1,274.7 796.1,276 798.3,277.3 800.7,278.4 803.3,279.4 793,309"/><circle cx="868.7" cy="322.8" r="20"/><polygon points="850,329.9 849.2,327.8 848.3,325.8 847.3,323.8 846.3,321.9 845.2,320 844.2,318.2 843,316.4 841.9,314.7 840.7,313 839.4,311.3 838.2,309.7 836.9,308.1 835.6,306.5 834.3,305 833,303.4 831.6,301.9 830.3,300.4 828.9,298.9 827.5,297.4 826.1,295.9 824.7,294.5 823.3,293 821.9,291.6 820.4,290.2 819,288.8 817.5,287.3 816.1,285.9 814.6,284.5 813.2,283.1 811.7,281.8 810.2,280.4 808.8,279 807.3,277.6 805.8,276.2 804.3,274.9 802.8,273.5 801.3,272.1 799.8,270.8 798.3,269.4 796.8,268.1 795.3,266.7 793.8,265.4 792.3,264 790.8,262.7 789.3,261.3 787.8,260 786.3,258.7 784.8,257.3 783.2,256 781.7,254.7 780.2,253.4 778.6,252.1 777.1,250.8 775.5,249.5 773.9,248.3 772.3,247 770.7,245.8 769.1,244.5 767.5,243.3 765.8,242.2 764.1,241 762.4,239.9 760.7,238.9 758.8,237.9 757,236.9 755.1,236 753.1,235.3 751,234.6 754.8,221.6 767.2,216.3 768.2,218.3 769.2,220.2 770.3,222 771.4,223.7 772.6,225.4 773.9,227 775.2,228.6 776.5,230.1 777.9,231.6 779.3,233.1 780.7,234.6 782.1,236 783.5,237.5 785,238.9 786.4,240.3 787.9,241.7 789.4,243 790.8,244.4 792.3,245.8 793.8,247.1 795.3,248.5 796.8,249.8 798.3,251.2 799.8,252.5 801.3,253.9 802.9,255.2 804.4,256.6 805.9,257.9 807.4,259.2 808.9,260.5 810.5,261.9 812,263.2 813.5,264.5 815.1,265.8 816.6,267.1 818.1,268.4 819.7,269.7 821.2,271 822.8,272.3 824.3,273.6 825.9,274.9 827.5,276.2 829,277.4 830.6,278.7 832.2,280 833.8,281.2 835.4,282.4 837,283.7 838.6,284.9 840.3,286.1 841.9,287.3 843.6,288.5 845.2,289.6 846.9,290.8 848.6,291.9 850.4,293 852.1,294 853.9,295.1 855.7,296.1 857.5,297.1 859.4,298.1 861.2,299 863.2,299.8 865.1,300.7 867.2,301.4 869.2,302.2 871.3,302.8 873.5,303.4 868.7,322.8"/><circle cx="754.8" cy="221.6" r="13.5"/></g>
<g fill="#a88c30" opacity="0.62"><circle cx="867.6" cy="475.8" r="19.6"/><polygon points="880.9,490.2 879,492.3 877.4,494.4 876.3,496.4 875.4,498.4 874.8,500.5 874.3,502.5 874,504.5 873.8,506.5 873.7,508.5 873.7,510.5 873.8,512.5 874,514.5 874.3,516.5 874.8,518.5 875.3,520.5 876.1,522.5 877,524.5 878.3,526.4 879.8,528.4 869.8,537.5 859.2,529.1 860.6,527 861.7,525 862.5,523 863.1,520.9 863.5,518.9 863.8,516.9 863.9,514.9 864,512.9 864,510.9 863.8,508.9 863.6,506.9 863.3,504.9 862.8,502.9 862.2,500.9 861.4,498.9 860.4,497 859.1,495 857.4,493.1 855.3,491.1 867.6,475.8"/><circle cx="752.4" cy="590.2" r="31.3"/><polygon points="761,560.1 763.5,560.8 766,561.3 768.4,561.7 770.7,562 773.1,562.3 775.4,562.4 777.6,562.5 779.8,562.4 782,562.3 784.2,562.2 786.3,562 788.4,561.7 790.5,561.4 792.6,561.1 794.6,560.7 796.7,560.3 798.7,559.8 800.7,559.3 802.7,558.8 804.7,558.2 806.6,557.7 808.6,557.1 810.5,556.4 812.5,555.8 814.4,555.1 816.3,554.5 818.2,553.8 820.1,553.1 822,552.3 823.9,551.6 825.8,550.8 827.7,550 829.6,549.2 831.4,548.4 833.3,547.6 835.1,546.7 836.9,545.8 838.8,544.9 840.6,544 842.4,543 844.1,542 845.9,540.9 847.6,539.8 849.3,538.7 851,537.4 852.6,536.1 854.2,534.7 855.7,533.1 857.2,531.4 858.6,529.6 869.8,537.5 868.3,551.1 866,551 863.7,550.9 861.5,551.1 859.4,551.3 857.4,551.6 855.3,552 853.3,552.5 851.3,553.1 849.4,553.7 847.4,554.3 845.5,555 843.6,555.8 841.7,556.5 839.9,557.3 838,558.1 836.1,558.9 834.3,559.8 832.4,560.6 830.6,561.5 828.8,562.4 827,563.3 825.2,564.3 823.4,565.2 821.6,566.2 819.8,567.2 818,568.2 816.3,569.2 814.5,570.2 812.8,571.3 811,572.4 809.3,573.5 807.6,574.6 805.9,575.8 804.2,577 802.5,578.3 800.9,579.5 799.2,580.8 797.6,582.2 796,583.6 794.4,585.1 792.9,586.6 791.4,588.2 789.9,589.8 788.4,591.5 787,593.3 785.6,595.2 784.3,597.2 783,599.3 781.8,601.5 780.6,603.8 752.4,590.2"/><circle cx="921" cy="587.6" r="7.5"/><polygon points="914.4,591.3 913.3,589.4 912.2,587.7 911,585.9 909.8,584.2 908.5,582.6 907.2,580.9 905.9,579.3 904.5,577.8 903.1,576.2 901.7,574.7 900.3,573.2 898.9,571.7 897.4,570.3 896,568.8 894.5,567.4 892.9,566 891.4,564.6 889.9,563.2 888.3,561.9 886.7,560.6 885,559.3 883.3,558.1 881.6,556.9 879.8,555.8 878,554.7 876,553.7 874,552.8 871.9,552 869.7,551.4 867.3,550.8 869.8,537.5 883.1,534.7 883.6,537.1 884.4,539.3 885.2,541.4 886.2,543.4 887.2,545.3 888.3,547.1 889.5,548.9 890.7,550.6 892,552.2 893.3,553.8 894.6,555.4 896,557 897.4,558.5 898.8,560 900.2,561.5 901.7,563 903.1,564.4 904.6,565.8 906.2,567.2 907.7,568.6 909.2,570 910.8,571.3 912.4,572.7 914,574 915.7,575.2 917.4,576.4 919.1,577.6 920.9,578.8 922.7,579.9 924.5,580.9 921,587.6"/><circle cx="869.8" cy="537.5" r="13.5"/></g>
<g fill="#3040f0" opacity="0.55"><circle cx="90.2" cy="159.6" r="22.5"/><polygon points="112.3,163.8 111.9,166.2 111.6,168.5 111.4,170.8 111.3,173 111.2,175.3 111.3,177.5 111.3,179.6 111.5,181.8 111.7,183.9 112,186 112.3,188.1 112.6,190.1 113,192.2 113.4,194.2 113.8,196.2 114.3,198.2 114.8,200.2 115.3,202.2 115.9,204.2 116.5,206.1 117,208.1 117.6,210.1 118.3,212 118.9,213.9 119.5,215.9 120.2,217.8 120.9,219.7 121.6,221.7 122.3,223.6 123,225.5 123.7,227.4 124.4,229.3 125.2,231.2 125.9,233.1 126.7,235 127.5,236.8 128.3,238.7 129.1,240.6 130,242.4 130.8,244.3 131.7,246.1 132.6,247.9 133.5,249.8 134.5,251.6 135.6,253.3 136.6,255.1 137.8,256.8 139,258.5 140.3,260.2 141.7,261.8 143.2,263.4 144.8,264.9 146.6,266.4 138.5,277.3 125.1,275.3 125.3,273 125.4,270.7 125.4,268.5 125.2,266.4 125,264.3 124.6,262.2 124.2,260.2 123.8,258.2 123.2,256.2 122.7,254.2 122.1,252.3 121.4,250.3 120.8,248.4 120.1,246.5 119.4,244.6 118.7,242.7 117.9,240.8 117.1,238.9 116.4,237 115.6,235.1 114.8,233.2 114,231.4 113.1,229.5 112.3,227.7 111.5,225.8 110.6,224 109.7,222.1 108.8,220.3 108,218.4 107,216.6 106.1,214.8 105.2,213 104.2,211.2 103.2,209.4 102.2,207.6 101.2,205.8 100.2,204 99.1,202.3 98,200.5 96.9,198.8 95.7,197.1 94.5,195.3 93.2,193.7 91.9,192 90.6,190.3 89.2,188.7 87.8,187.1 86.2,185.5 84.6,184 83,182.5 81.2,181 79.4,179.5 77.4,178.1 90.2,159.6"/><circle cx="69.6" cy="237.8" r="23"/><polygon points="91.8,231.7 92.7,234.3 93.6,236.7 94.7,238.8 95.9,240.8 97.2,242.6 98.5,244.2 100,245.8 101.4,247.2 102.9,248.6 104.5,249.9 106.1,251.2 107.7,252.4 109.4,253.5 111.1,254.6 112.8,255.6 114.5,256.6 116.3,257.6 118.1,258.5 119.9,259.3 121.8,260.1 123.6,260.9 125.6,261.6 127.5,262.2 129.5,262.7 131.6,263.2 133.7,263.5 135.9,263.7 138.2,263.7 138.5,277.3 126.6,283.9 125.4,281.9 124.1,280.1 122.8,278.5 121.4,276.9 119.9,275.5 118.4,274.1 116.8,272.8 115.2,271.5 113.6,270.3 111.9,269.2 110.3,268.1 108.5,267.1 106.8,266.1 105,265.1 103.3,264.2 101.4,263.4 99.6,262.5 97.7,261.8 95.8,261.1 93.8,260.5 91.8,260 89.8,259.5 87.6,259.2 85.4,259 83.2,259 80.8,259.1 78.3,259.5 75.6,260.1 69.6,237.8"/><circle cx="240.6" cy="223.6" r="7.5"/><polygon points="242.3,230.9 240.2,231.4 238.2,232 236.3,232.6 234.3,233.2 232.3,233.9 230.4,234.6 228.5,235.3 226.6,236.1 224.7,236.9 222.8,237.7 221,238.5 219.1,239.4 217.3,240.2 215.4,241.1 213.6,241.9 211.7,242.8 209.9,243.7 208.1,244.6 206.3,245.5 204.4,246.4 202.6,247.4 200.8,248.3 199,249.2 197.2,250.1 195.4,251.1 193.6,252 191.8,253 190,253.9 188.2,254.9 186.4,255.9 184.6,256.8 182.8,257.8 181,258.8 179.2,259.8 177.5,260.8 175.7,261.8 173.9,262.8 172.2,263.9 170.5,265 168.7,266.1 167,267.2 165.3,268.3 163.7,269.5 162,270.8 160.4,272.1 158.8,273.4 157.2,274.8 155.7,276.4 154.3,278 152.9,279.7 151.6,281.6 150.4,283.7 138.5,277.3 140,263.9 142.4,264 144.7,264 146.9,263.9 149,263.6 151.1,263.2 153.2,262.8 155.2,262.2 157.2,261.6 159.2,261 161.1,260.3 163,259.5 164.9,258.8 166.8,258 168.6,257.1 170.5,256.3 172.3,255.4 174.2,254.5 176,253.7 177.8,252.8 179.7,251.9 181.5,250.9 183.3,250 185.1,249.1 186.9,248.1 188.7,247.2 190.5,246.2 192.3,245.3 194.1,244.3 195.9,243.4 197.7,242.4 199.5,241.4 201.3,240.5 203.1,239.5 204.9,238.5 206.6,237.5 208.4,236.5 210.2,235.5 211.9,234.4 213.7,233.4 215.4,232.4 217.2,231.3 218.9,230.2 220.7,229.2 222.4,228 224.1,226.9 225.8,225.8 227.4,224.6 229.1,223.4 230.7,222.1 232.4,220.8 234,219.5 235.5,218.1 240.6,223.6"/><circle cx="126.8" cy="355.3" r="15.5"/><polygon points="115.4,344.8 116.9,343 118.3,341.1 119.6,339.3 120.7,337.4 121.7,335.5 122.6,333.6 123.4,331.6 124.1,329.7 124.8,327.8 125.4,325.8 125.9,323.8 126.4,321.9 126.9,319.9 127.3,317.9 127.7,315.9 128.1,313.9 128.4,311.9 128.6,309.9 128.9,307.9 129.1,305.9 129.2,303.9 129.3,301.8 129.3,299.8 129.3,297.7 129.2,295.7 129,293.6 128.7,291.5 128.3,289.4 127.7,287.3 127,285.1 126.1,282.9 138.5,277.3 148.7,286.3 147.2,288.1 145.9,290 144.7,291.9 143.7,293.8 142.8,295.7 142,297.6 141.3,299.5 140.7,301.5 140.1,303.5 139.6,305.4 139.1,307.4 138.7,309.4 138.4,311.4 138,313.4 137.7,315.4 137.5,317.4 137.3,319.4 137.1,321.4 136.9,323.4 136.9,325.5 136.8,327.5 136.8,329.6 136.9,331.6 137,333.7 137.2,335.8 137.5,337.9 137.9,340 138.4,342.1 139.1,344.2 139.8,346.4 140.8,348.6 126.8,355.3"/><circle cx="138.5" cy="277.3" r="13.5"/></g>
<g fill="#ff0000" opacity="0.5"><circle cx="126.5" cy="55.5" r="54.5"/><polygon points="170.4,87.8 168.5,90.5 166.8,93.1 165.4,95.7 164.1,98.2 163,100.6 162,103 161.2,105.4 160.5,107.7 159.9,110 159.4,112.3 159,114.5 158.7,116.7 158.5,118.9 158.3,121.1 158.2,123.2 158.2,125.4 158.2,127.5 158.3,129.6 158.4,131.6 158.6,133.7 158.8,135.8 159.1,137.8 159.4,139.8 159.7,141.9 160,143.9 160.4,145.9 160.8,147.9 161.2,149.9 161.7,151.8 162.2,153.8 162.7,155.8 163.2,157.7 163.8,159.7 164.4,161.6 165,163.5 165.7,165.5 166.4,167.4 167.2,169.3 168,171.1 168.9,173 169.8,174.8 170.8,176.6 172,178.4 173.2,180.1 174.6,181.8 176.1,183.5 177.8,185.1 168.7,195.5 155.4,191.9 155.9,189.6 156.3,187.4 156.5,185.2 156.5,183.1 156.5,180.9 156.3,178.9 156.1,176.8 155.8,174.8 155.5,172.8 155.1,170.8 154.6,168.8 154.1,166.8 153.6,164.9 153,162.9 152.4,161 151.8,159.1 151.1,157.2 150.4,155.2 149.7,153.3 149,151.4 148.2,149.6 147.4,147.7 146.6,145.8 145.7,143.9 144.8,142.1 143.9,140.3 143,138.4 142,136.6 140.9,134.8 139.8,133 138.7,131.2 137.5,129.5 136.2,127.7 134.9,126 133.5,124.3 132.1,122.7 130.5,121 128.8,119.4 127.1,117.8 125.2,116.3 123.2,114.7 121.1,113.3 118.8,111.8 116.3,110.5 113.7,109.1 110.8,107.9 107.8,106.7 126.5,55.5"/><circle cx="90.2" cy="159.6" r="22.5"/><polygon points="111,150.9 112.1,153.4 113.4,155.6 114.7,157.7 116.1,159.6 117.5,161.3 119.1,162.9 120.6,164.4 122.2,165.8 123.9,167.2 125.6,168.4 127.3,169.6 129,170.8 130.8,171.8 132.6,172.9 134.4,173.9 136.2,174.8 138,175.7 139.9,176.6 141.8,177.4 143.7,178.2 145.6,178.9 147.6,179.6 149.5,180.2 151.5,180.8 153.5,181.3 155.6,181.7 157.7,182 159.9,182.2 162.1,182.3 164.4,182.3 166.8,182 168.7,195.5 157.2,202.9 155.9,200.9 154.4,199.1 152.9,197.5 151.3,196 149.7,194.6 148,193.3 146.3,192.1 144.6,191 142.8,189.9 141.1,188.9 139.2,187.9 137.4,187 135.6,186.1 133.7,185.3 131.8,184.4 129.9,183.7 128,183 126,182.3 124,181.7 122,181.1 120,180.6 118,180.1 115.9,179.7 113.8,179.5 111.6,179.3 109.4,179.2 107.1,179.2 104.8,179.4 102.4,179.7 99.9,180.2 97.3,181 90.2,159.6"/><circle cx="279.3" cy="163.4" r="15.5"/><polygon points="275.8,178.5 273.5,178 271.3,177.7 269.1,177.4 266.9,177.2 264.8,177.1 262.6,177 260.5,177 258.4,177.1 256.3,177.2 254.3,177.4 252.2,177.6 250.1,177.8 248.1,178.1 246.1,178.4 244,178.7 242,179.1 240,179.5 238,179.9 236,180.3 234,180.7 232,181.2 230,181.6 228,182.1 226.1,182.6 224.1,183.1 222.1,183.6 220.1,184.2 218.2,184.7 216.2,185.3 214.3,185.8 212.3,186.4 210.4,187 208.4,187.6 206.5,188.3 204.5,188.9 202.6,189.6 200.7,190.3 198.8,191.1 196.9,191.9 195,192.7 193.2,193.6 191.3,194.5 189.5,195.5 187.7,196.6 185.9,197.8 184.2,199.1 182.5,200.6 180.8,202.2 179.2,204 168.7,195.5 173,182.7 175.3,183.3 177.6,183.8 179.8,184.1 182,184.3 184.1,184.4 186.2,184.4 188.3,184.2 190.4,184 192.4,183.8 194.5,183.5 196.5,183.1 198.5,182.7 200.5,182.3 202.5,181.8 204.5,181.4 206.5,180.9 208.4,180.4 210.4,179.8 212.4,179.3 214.3,178.7 216.3,178.1 218.2,177.5 220.2,176.9 222.1,176.3 224,175.7 226,175 227.9,174.4 229.8,173.7 231.8,173 233.7,172.3 235.6,171.6 237.5,170.9 239.4,170.1 241.3,169.3 243.2,168.5 245.1,167.7 246.9,166.8 248.8,165.9 250.7,165 252.5,164 254.3,163 256.1,161.9 257.9,160.8 259.7,159.6 261.5,158.4 263.2,157 264.9,155.6 266.6,154.1 268.3,152.5 279.3,163.4"/><circle cx="69.6" cy="237.8" r="23"/><polygon points="75.3,215.5 77.7,216.1 80.1,216.5 82.4,216.8 84.6,217 86.9,217.1 89.1,217.1 91.2,217.1 93.3,216.9 95.4,216.8 97.5,216.5 99.6,216.2 101.6,215.9 103.6,215.5 105.6,215 107.6,214.6 109.5,214.1 111.5,213.5 113.4,213 115.4,212.4 117.3,211.8 119.2,211.1 121.1,210.5 123,209.8 124.9,209.1 126.7,208.3 128.6,207.6 130.4,206.8 132.3,206 134.1,205.2 135.9,204.4 137.7,203.5 139.5,202.6 141.3,201.6 143.1,200.6 144.8,199.6 146.5,198.5 148.2,197.3 149.8,196 151.4,194.7 153,193.2 154.5,191.6 155.9,189.9 157.3,188 168.7,195.5 166.2,208.9 163.9,208.6 161.7,208.4 159.5,208.4 157.3,208.5 155.3,208.8 153.2,209.1 151.2,209.5 149.2,209.9 147.3,210.5 145.3,211 143.4,211.7 141.5,212.3 139.6,213 137.8,213.8 135.9,214.5 134.1,215.3 132.2,216.1 130.4,216.9 128.6,217.8 126.8,218.6 125,219.5 123.2,220.4 121.4,221.4 119.6,222.3 117.9,223.3 116.1,224.3 114.4,225.4 112.7,226.4 110.9,227.6 109.3,228.7 107.6,229.9 105.9,231.1 104.3,232.4 102.7,233.7 101.1,235.1 99.5,236.5 98,238 96.5,239.6 95,241.3 93.6,243.1 92.2,245 90.9,247 89.6,249.1 69.6,237.8"/><circle cx="240.6" cy="223.6" r="7.5"/><polygon points="236.1,229.7 234.4,228.4 232.7,227.3 230.9,226.2 229.1,225.1 227.3,224.1 225.5,223.1 223.7,222.1 221.8,221.2 220,220.3 218.1,219.4 216.2,218.6 214.4,217.8 212.5,217 210.6,216.2 208.7,215.4 206.8,214.7 204.8,213.9 202.9,213.2 201,212.5 199,211.9 197.1,211.3 195.1,210.7 193.1,210.1 191.1,209.6 189.1,209.1 187,208.7 185,208.4 182.9,208.2 180.7,208 178.5,208 176.3,208 174,208.3 171.6,208.7 168.7,195.5 179.8,187.8 181.3,189.7 182.8,191.4 184.4,193 186,194.5 187.7,195.8 189.4,197 191.2,198.2 192.9,199.3 194.7,200.3 196.6,201.3 198.4,202.3 200.2,203.2 202.1,204 204,204.9 205.9,205.7 207.8,206.5 209.7,207.2 211.6,208 213.5,208.7 215.4,209.4 217.4,210.1 219.3,210.8 221.2,211.4 223.2,212 225.2,212.6 227.2,213.2 229.1,213.7 231.2,214.2 233.2,214.7 235.2,215.1 237.3,215.5 239.3,215.8 241.4,216.1 240.6,223.6"/><circle cx="168.7" cy="195.5" r="13.5"/></g>
<g fill="#3040f0" opacity="0.55"><circle cx="773.8" cy="52.7" r="31"/><polygon points="797.9,33.2 799.5,35.1 801.2,36.9 802.8,38.6 804.5,40.2 806.3,41.7 808,43.1 809.8,44.5 811.6,45.8 813.4,47 815.2,48.1 817,49.2 818.9,50.3 820.7,51.3 822.6,52.2 824.5,53.1 826.3,54 828.2,54.9 830.1,55.7 832,56.5 833.9,57.2 835.8,57.9 837.8,58.7 839.7,59.3 841.6,60 843.6,60.7 845.5,61.3 847.4,61.9 849.4,62.5 851.3,63.1 853.3,63.7 855.2,64.2 857.2,64.8 859.2,65.3 861.1,65.8 863.1,66.3 865.1,66.8 867.1,67.3 869,67.7 871,68.1 873,68.5 875,68.9 877,69.3 879,69.6 881.1,69.8 883.1,70.1 885.1,70.2 887.2,70.3 889.3,70.4 891.4,70.3 893.5,70.1 895.7,69.9 897.9,69.4 900.9,82.8 892.2,93.4 890.4,92 888.6,90.8 886.8,89.7 884.9,88.7 883.1,87.8 881.2,87 879.3,86.2 877.4,85.5 875.4,84.8 873.5,84.2 871.5,83.6 869.6,83 867.6,82.5 865.7,82 863.7,81.5 861.7,81 859.7,80.6 857.7,80.1 855.7,79.7 853.8,79.3 851.8,78.9 849.8,78.5 847.8,78.2 845.8,77.8 843.7,77.5 841.7,77.2 839.7,76.9 837.7,76.6 835.7,76.3 833.6,76.1 831.6,75.8 829.6,75.6 827.5,75.5 825.5,75.3 823.4,75.2 821.3,75.1 819.3,75 817.2,75 815.1,75 813,75.1 810.9,75.2 808.8,75.4 806.6,75.6 804.5,75.9 802.3,76.2 800.1,76.6 797.9,77.1 795.7,77.7 793.4,78.3 791.2,79.1 788.9,80 786.5,81 773.8,52.7"/><circle cx="953.5" cy="15.8" r="15.7"/><polygon points="959.2,30.5 957.1,31.3 955.1,32.3 953.2,33.4 951.3,34.5 949.6,35.6 947.9,36.9 946.2,38.1 944.6,39.4 943.1,40.8 941.6,42.1 940.1,43.5 938.7,45 937.3,46.4 935.9,47.9 934.6,49.4 933.2,50.9 931.9,52.4 930.6,53.9 929.4,55.5 928.1,57.1 926.9,58.7 925.7,60.3 924.6,61.9 923.4,63.6 922.3,65.2 921.2,66.9 920.2,68.7 919.2,70.4 918.3,72.3 917.4,74.1 916.6,76 915.9,78 915.3,80.1 914.8,82.2 914.4,84.5 900.9,82.8 896,70.1 898.2,69.2 900.1,68.2 902,67.1 903.7,65.9 905.4,64.7 907,63.4 908.6,62.1 910,60.7 911.5,59.3 912.9,57.8 914.3,56.4 915.6,54.9 916.9,53.3 918.2,51.8 919.4,50.2 920.7,48.6 921.9,47 923.1,45.4 924.2,43.8 925.4,42.2 926.5,40.5 927.6,38.8 928.7,37.1 929.7,35.4 930.7,33.6 931.7,31.8 932.6,30 933.5,28.2 934.4,26.3 935.2,24.3 935.9,22.3 936.5,20.3 937.1,18.2 937.6,16 937.9,13.8 953.5,15.8"/><circle cx="855.5" cy="166.2" r="15.5"/><polygon points="846.9,153.3 848.7,152 850.5,150.7 852.2,149.3 853.8,147.9 855.3,146.4 856.8,144.9 858.2,143.4 859.6,141.8 860.9,140.2 862.2,138.7 863.4,137 864.6,135.4 865.8,133.8 867,132.1 868.1,130.4 869.3,128.7 870.3,127 871.4,125.3 872.5,123.6 873.5,121.9 874.5,120.1 875.5,118.4 876.5,116.6 877.5,114.9 878.4,113.1 879.4,111.3 880.3,109.5 881.1,107.7 882,105.8 882.8,104 883.6,102.1 884.3,100.2 885,98.3 885.6,96.3 886.1,94.3 886.6,92.3 887,90.2 887.2,88 887.3,85.8 887.3,83.5 900.9,82.8 907.7,94.6 905.8,95.8 904,97.1 902.3,98.5 900.7,100 899.3,101.5 897.9,103 896.6,104.6 895.3,106.2 894.1,107.8 893,109.5 891.8,111.2 890.8,112.9 889.7,114.6 888.7,116.4 887.7,118.1 886.7,119.9 885.7,121.6 884.8,123.4 883.9,125.2 882.9,127 882.1,128.8 881.2,130.6 880.3,132.5 879.5,134.3 878.7,136.2 877.9,138 877.1,139.9 876.4,141.8 875.7,143.7 875,145.6 874.4,147.6 873.8,149.6 873.2,151.6 872.7,153.6 872.2,155.6 871.9,157.7 871.5,159.8 871.3,162 871.1,164.2 871,166.4 855.5,166.2"/><circle cx="924.4" cy="169.6" r="15.7"/><polygon points="909.2,165.7 909.7,163.4 910.1,161.2 910.4,159.1 910.6,156.9 910.7,154.8 910.7,152.7 910.7,150.6 910.6,148.5 910.5,146.4 910.3,144.4 910.1,142.3 909.8,140.3 909.5,138.3 909.2,136.3 908.8,134.3 908.4,132.3 908,130.3 907.6,128.3 907.1,126.3 906.6,124.3 906.1,122.4 905.6,120.4 905,118.5 904.4,116.5 903.8,114.6 903.2,112.7 902.5,110.7 901.7,108.8 900.9,106.9 900.1,105.1 899.2,103.2 898.2,101.4 897.1,99.6 895.9,97.8 894.6,96 893.2,94.3 891.5,92.7 900.9,82.8 914,86.6 913.4,88.9 913,91.1 912.7,93.2 912.6,95.4 912.6,97.5 912.7,99.6 912.8,101.6 913,103.7 913.3,105.7 913.6,107.7 914,109.7 914.4,111.7 914.9,113.7 915.3,115.7 915.8,117.6 916.4,119.6 916.9,121.5 917.5,123.5 918.1,125.4 918.7,127.4 919.3,129.3 920,131.2 920.7,133.1 921.4,135 922.2,136.9 923,138.8 923.8,140.7 924.7,142.6 925.6,144.4 926.6,146.3 927.6,148.1 928.7,149.9 929.9,151.7 931.2,153.4 932.5,155.2 934,156.9 935.6,158.5 924.4,169.6"/><circle cx="833.1" cy="91" r="7.5"/><polygon points="834.5,83.6 836.5,83.9 838.6,84.1 840.6,84.3 842.7,84.4 844.7,84.5 846.8,84.5 848.8,84.4 850.8,84.3 852.8,84.2 854.8,84.1 856.9,83.9 858.9,83.7 860.9,83.5 862.9,83.2 864.9,82.9 866.9,82.6 868.8,82.2 870.8,81.8 872.8,81.4 874.8,80.9 876.7,80.3 878.7,79.7 880.7,79.1 882.6,78.3 884.5,77.4 886.4,76.4 888.3,75.3 890.2,74 892.1,72.5 900.9,82.8 894.8,94.9 892.6,93.9 890.5,93.1 888.4,92.4 886.3,91.9 884.2,91.5 882.1,91.3 880.1,91.1 878,90.9 876,90.9 874,90.9 871.9,90.9 869.9,91 867.9,91.1 865.9,91.3 863.9,91.5 861.9,91.7 859.9,91.9 857.9,92.2 855.9,92.5 853.9,92.9 851.9,93.2 849.9,93.6 847.9,94.1 846,94.6 844,95.1 842,95.7 840.1,96.4 838.1,97.1 836.2,97.9 833.1,91"/><circle cx="900.9" cy="82.8" r="13.5"/></g>
<g fill="#00e4e8" opacity="0.4"><circle cx="560.6" cy="47.6" r="15.7"/><polygon points="571.1,59.3 569.4,60.9 567.9,62.6 566.4,64.3 565.1,66.1 563.9,67.8 562.8,69.6 561.8,71.4 560.8,73.3 559.9,75.1 559.1,77 558.3,78.9 557.5,80.8 556.8,82.7 556.1,84.6 555.5,86.5 554.9,88.4 554.3,90.3 553.8,92.3 553.3,94.2 552.8,96.2 552.4,98.2 552,100.2 551.6,102.2 551.3,104.2 551.1,106.2 550.9,108.2 550.8,110.3 550.7,112.4 550.8,114.5 551,116.6 551.3,118.8 551.8,121 552.4,123.2 539.5,127.5 530.4,117.4 532.1,115.8 533.6,114.1 534.9,112.4 536.1,110.6 537.2,108.8 538.2,107 539.1,105.1 540,103.3 540.7,101.4 541.5,99.5 542.1,97.6 542.8,95.6 543.4,93.7 543.9,91.8 544.5,89.8 544.9,87.9 545.4,85.9 545.8,83.9 546.2,81.9 546.6,80 546.9,77.9 547.2,75.9 547.4,73.9 547.6,71.9 547.7,69.8 547.8,67.7 547.8,65.7 547.7,63.5 547.5,61.4 547.3,59.3 546.9,57.1 546.4,54.8 545.7,52.6 560.6,47.6"/><circle cx="447.6" cy="151.6" r="7.5"/><polygon points="447.6,144.1 449.7,144.1 451.8,144 453.9,143.8 455.9,143.6 458,143.4 460,143.2 462,142.9 464,142.6 466.1,142.2 468.1,141.8 470.1,141.5 472.1,141.1 474.1,140.6 476.1,140.2 478.1,139.8 480,139.3 482,138.8 484,138.3 486,137.9 488,137.4 489.9,136.8 491.9,136.3 493.9,135.8 495.8,135.2 497.8,134.7 499.7,134.1 501.7,133.5 503.6,132.9 505.6,132.2 507.5,131.6 509.4,130.9 511.3,130.1 513.2,129.3 515.1,128.5 517,127.6 518.8,126.7 520.7,125.6 522.5,124.5 524.3,123.2 526,121.9 527.7,120.3 529.4,118.6 539.5,127.5 535,140.3 532.8,139.6 530.5,139 528.3,138.7 526.2,138.5 524,138.4 521.9,138.4 519.8,138.4 517.8,138.6 515.7,138.8 513.7,139 511.6,139.3 509.6,139.7 507.6,140 505.6,140.4 503.6,140.8 501.6,141.3 499.6,141.7 497.6,142.2 495.7,142.7 493.7,143.2 491.7,143.7 489.8,144.2 487.8,144.7 485.8,145.3 483.9,145.8 481.9,146.4 479.9,147 478,147.6 476,148.2 474.1,148.8 472.2,149.4 470.2,150.1 468.3,150.7 466.4,151.4 464.5,152.1 462.5,152.9 460.6,153.6 458.7,154.4 456.9,155.3 455,156.2 453.1,157.1 451.3,158.1 447.6,151.6"/><circle cx="493.4" cy="208.3" r="31"/><polygon points="487.6,177.8 490.5,177.2 493.1,176.3 495.5,175.4 497.7,174.3 499.8,173.2 501.6,171.9 503.4,170.6 505.1,169.2 506.6,167.8 508.1,166.3 509.5,164.8 510.8,163.2 512.1,161.7 513.3,160 514.5,158.4 515.6,156.7 516.7,155 517.7,153.3 518.7,151.5 519.7,149.7 520.6,147.9 521.4,146.1 522.3,144.3 523,142.4 523.7,140.4 524.3,138.5 524.9,136.5 525.3,134.4 525.6,132.3 525.8,130.1 525.9,127.8 539.5,127.5 546.2,139.4 544.3,140.6 542.5,141.9 540.8,143.2 539.2,144.7 537.8,146.2 536.4,147.7 535.1,149.3 533.8,150.9 532.7,152.5 531.5,154.2 530.4,155.9 529.4,157.6 528.4,159.4 527.4,161.1 526.5,162.9 525.7,164.8 524.8,166.6 524,168.5 523.3,170.4 522.7,172.3 522.1,174.3 521.5,176.3 521.1,178.4 520.7,180.5 520.5,182.7 520.4,185 520.4,187.3 520.7,189.7 521.1,192.3 521.7,195 522.6,197.8 493.4,208.3"/><circle cx="583.1" cy="206" r="23"/><polygon points="560.6,201.1 561.1,198.5 561.3,196 561.5,193.6 561.4,191.3 561.3,189.1 561,186.9 560.6,184.7 560.2,182.6 559.7,180.6 559.1,178.5 558.4,176.6 557.7,174.6 557,172.7 556.2,170.8 555.4,168.9 554.5,167 553.6,165.2 552.7,163.3 551.7,161.5 550.7,159.7 549.7,158 548.6,156.2 547.5,154.5 546.3,152.8 545.1,151.1 543.9,149.5 542.6,147.9 541.2,146.3 539.7,144.8 538.1,143.3 536.5,141.9 534.6,140.5 532.7,139.3 539.5,127.5 553.1,127.9 553.1,130.3 553.3,132.5 553.6,134.7 554,136.8 554.5,138.9 555.2,140.9 555.8,142.8 556.6,144.8 557.4,146.7 558.2,148.6 559.1,150.4 560,152.2 561,154.1 561.9,155.9 563,157.6 564,159.4 565.1,161.1 566.2,162.8 567.4,164.5 568.6,166.2 569.9,167.9 571.1,169.5 572.5,171.1 573.9,172.7 575.4,174.2 576.9,175.7 578.5,177.1 580.2,178.5 582.1,179.8 584,181.1 586.1,182.3 588.4,183.4 590.9,184.3 583.1,206"/><circle cx="539.5" cy="127.5" r="13.5"/></g>
<g fill="#50d030" opacity="0.5"><circle cx="493.4" cy="208.3" r="31"/><polygon points="523.1,217.4 522.3,220.2 521.8,222.9 521.5,225.5 521.4,228 521.4,230.3 521.6,232.6 521.9,234.8 522.3,236.9 522.8,239 523.4,241 524,243 524.8,245 525.5,246.9 526.4,248.7 527.2,250.6 528.2,252.4 529.1,254.2 530.1,256 531.1,257.7 532.2,259.4 533.3,261.1 534.5,262.8 535.7,264.4 536.9,266 538.3,267.6 539.6,269.2 541.1,270.7 542.6,272.1 544.2,273.5 545.9,274.8 547.8,276 549.8,277.2 543.5,289.3 529.9,289.5 529.7,287.2 529.5,285 529,282.9 528.5,280.8 527.9,278.8 527.2,276.8 526.5,274.9 525.6,273.1 524.7,271.2 523.8,269.4 522.8,267.6 521.8,265.9 520.7,264.1 519.7,262.4 518.5,260.7 517.3,259.1 516.1,257.5 514.9,255.9 513.6,254.3 512.2,252.7 510.8,251.2 509.3,249.7 507.8,248.3 506.1,246.9 504.4,245.6 502.6,244.4 500.6,243.2 498.5,242.1 496.3,241.1 493.8,240.2 491.2,239.5 488.3,238.9 493.4,208.3"/><circle cx="583.1" cy="206" r="23"/><polygon points="592.5,227 590.2,228.1 588.1,229.3 586.1,230.6 584.3,232 582.5,233.4 580.9,234.8 579.4,236.3 578,237.9 576.6,239.4 575.3,241.1 574,242.7 572.8,244.3 571.7,246 570.6,247.7 569.5,249.4 568.5,251.2 567.5,252.9 566.5,254.7 565.6,256.5 564.7,258.3 563.8,260.1 563,261.9 562.2,263.7 561.4,265.6 560.7,267.5 560,269.4 559.3,271.3 558.7,273.2 558.2,275.2 557.8,277.2 557.4,279.3 557.1,281.4 557,283.5 556.9,285.7 557.1,288 543.5,289.3 535.9,278 537.8,276.6 539.5,275.2 541.1,273.7 542.5,272.2 543.9,270.6 545.1,269 546.3,267.3 547.5,265.7 548.5,263.9 549.6,262.2 550.6,260.5 551.5,258.7 552.4,256.9 553.3,255.1 554.2,253.3 555,251.4 555.8,249.6 556.6,247.7 557.3,245.8 558,243.9 558.6,242 559.3,240.1 559.8,238.2 560.4,236.2 560.9,234.2 561.3,232.2 561.6,230.1 561.9,228 562.1,225.9 562.2,223.7 562.2,221.5 562.1,219.2 561.9,216.9 561.5,214.5 560.9,212 583.1,206"/><circle cx="448.8" cy="267.4" r="7.5"/><polygon points="452.3,260.8 454.2,261.7 456.1,262.6 458,263.4 459.9,264.2 461.8,265 463.7,265.7 465.7,266.4 467.6,267.1 469.5,267.7 471.5,268.3 473.5,268.9 475.4,269.5 477.4,270 479.3,270.6 481.3,271.1 483.3,271.6 485.3,272.1 487.2,272.6 489.2,273.1 491.2,273.6 493.2,274.1 495.2,274.5 497.2,275 499.2,275.4 501.2,275.8 503.2,276.2 505.2,276.6 507.2,277 509.2,277.4 511.2,277.7 513.2,278 515.3,278.3 517.3,278.5 519.4,278.7 521.4,278.9 523.5,279 525.6,279 527.7,278.9 529.8,278.7 532,278.4 534.2,278 536.4,277.4 538.7,276.7 543.5,289.3 533.6,298.5 531.9,296.8 530.2,295.3 528.4,294 526.6,292.8 524.7,291.7 522.9,290.7 521,289.8 519.1,289 517.2,288.2 515.2,287.5 513.3,286.8 511.3,286.2 509.4,285.5 507.4,285 505.5,284.4 503.5,283.8 501.5,283.3 499.6,282.8 497.6,282.3 495.6,281.8 493.6,281.4 491.6,280.9 489.6,280.4 487.6,280 485.6,279.6 483.6,279.2 481.6,278.7 479.6,278.3 477.6,278 475.6,277.6 473.6,277.2 471.6,276.9 469.6,276.6 467.6,276.2 465.5,276 463.5,275.7 461.5,275.5 459.4,275.3 457.4,275.1 455.3,275 453.2,274.9 451.1,274.9 449,274.9 448.8,267.4"/><circle cx="578.3" cy="364" r="20"/><polygon points="558.9,359 559.4,356.6 559.8,354.2 560,351.8 560,349.6 559.9,347.4 559.7,345.3 559.4,343.2 559,341.1 558.6,339.1 558.1,337.1 557.5,335.1 556.9,333.2 556.2,331.3 555.5,329.4 554.7,327.5 554,325.6 553.1,323.8 552.3,321.9 551.4,320.1 550.4,318.3 549.5,316.5 548.4,314.8 547.4,313.1 546.3,311.4 545.1,309.7 543.8,308 542.4,306.4 541,304.9 539.4,303.4 537.7,301.9 535.9,300.6 543.5,289.3 557,290.7 556.9,293 556.9,295.2 557,297.4 557.3,299.5 557.6,301.6 558.1,303.6 558.6,305.6 559.2,307.6 559.8,309.5 560.5,311.4 561.3,313.3 562,315.2 562.8,317 563.7,318.9 564.6,320.7 565.5,322.5 566.5,324.3 567.5,326 568.5,327.8 569.6,329.5 570.7,331.2 571.9,332.9 573.2,334.5 574.5,336.1 575.9,337.7 577.4,339.2 579.1,340.7 580.8,342.1 582.7,343.5 584.7,344.8 587,345.9 578.3,364"/><circle cx="543.5" cy="289.3" r="13.5"/></g>
<g fill="#ff40ff" opacity="0.4"><circle cx="354.7" cy="369.5" r="39"/><polygon points="376,402.2 373.1,404.3 370.6,406.4 368.6,408.4 366.9,410.5 365.5,412.5 364.3,414.6 363.4,416.6 362.6,418.6 362,420.7 361.5,422.7 361.1,424.7 360.8,426.7 360.6,428.8 360.5,430.8 360.5,432.8 360.6,434.8 360.7,436.9 360.9,438.9 361.2,440.9 361.6,442.9 362.2,444.9 362.8,446.9 363.6,448.9 364.6,450.9 365.7,452.9 367.1,454.9 356.2,463.2 345.1,455.3 346.4,453.3 347.5,451.2 348.4,449.2 349.1,447.1 349.7,445.1 350.1,443.1 350.5,441.1 350.7,439 350.9,437 350.9,435 350.9,433 350.8,430.9 350.7,428.9 350.4,426.9 350.1,424.9 349.6,422.9 349.1,420.9 348.4,418.9 347.5,416.8 346.5,414.8 345.3,412.8 343.8,410.8 342.1,408.8 340,406.9 337.5,404.9 334.5,402.9 354.7,369.5"/><circle cx="358.4" cy="530.2" r="39"/><polygon points="343.8,494 348.3,491.7 350.9,489.5 352.3,487.3 353,485.1 353.2,482.9 353,480.8 352.3,478.6 350.9,476.5 348.6,474.4 356.2,463.2 364.5,473.9 362.3,476.1 361.1,478.3 360.6,480.5 360.5,482.7 360.8,484.8 361.7,487 363.3,489.1 366,491.1 370.6,493.1 358.4,530.2"/><circle cx="356.2" cy="463.2" r="13.5"/></g>
<g fill="#a060f0" opacity="0.78"><circle cx="358.4" cy="530.2" r="39"/><polygon points="371.8,566.8 366.8,569.4 364.8,571.8 364.1,574.2 364.3,576.5 365.4,578.8 368,581 361.6,592.9 354,581.7 356.4,579.3 357.3,576.9 357.2,574.6 356.3,572.3 354,570.1 348.8,568 358.4,530.2"/><circle cx="361.6" cy="592.9" r="13.5"/></g>
<g fill="#50d030" opacity="0.5"><circle cx="496.2" cy="367.6" r="22.9"/><polygon points="511,385.2 508.7,387.3 506.9,389.5 505.4,391.6 504.3,393.7 503.4,395.8 502.7,397.9 502.2,400 501.9,402.1 501.7,404.1 501.5,406.2 501.5,408.3 501.6,410.4 501.8,412.4 502.1,414.5 502.5,416.5 503,418.6 503.7,420.6 504.6,422.7 505.6,424.7 507,426.7 508.7,428.7 498.7,438 488.1,429.5 489.6,427.3 490.8,425.2 491.8,423.1 492.5,421 493,418.9 493.4,416.9 493.7,414.8 493.8,412.7 493.8,410.6 493.8,408.6 493.6,406.5 493.4,404.4 493,402.4 492.5,400.3 491.8,398.3 491,396.2 490,394.2 488.7,392.2 487.1,390.2 485.1,388.2 482.7,386.2 496.2,367.6"/><circle cx="504.7" cy="528.8" r="39"/><polygon points="482.3,496.8 485.3,494.5 487.7,492.3 489.6,490.1 491.2,488 492.5,485.8 493.5,483.7 494.3,481.6 494.9,479.5 495.4,477.4 495.7,475.3 495.9,473.3 496,471.2 496,469.1 495.9,467.1 495.7,465 495.5,463 495.1,461 494.6,459 494,456.9 493.3,454.9 492.4,452.9 491.3,450.9 490,449 488.5,447 498.7,438 510,445.6 508.8,447.7 507.7,449.9 506.9,452 506.3,454.1 505.8,456.1 505.5,458.2 505.3,460.3 505.2,462.4 505.2,464.4 505.3,466.5 505.5,468.5 505.7,470.6 506.1,472.6 506.6,474.6 507.2,476.6 507.9,478.6 508.8,480.6 509.9,482.6 511.1,484.6 512.7,486.6 514.5,488.5 516.8,490.4 519.4,492.3 522.7,494.1 504.7,528.8"/><circle cx="498.7" cy="438" r="13.5"/></g>
<g fill="#a060f0" opacity="0.78"><circle cx="504.7" cy="528.8" r="39"/><polygon points="524.2,562.6 521,564.6 518.5,566.7 516.4,568.7 514.7,570.7 513.4,572.7 512.4,574.7 511.5,576.7 510.9,578.8 510.4,580.8 510,582.8 509.8,584.8 509.7,586.8 509.7,588.8 509.8,590.8 510,592.8 510.3,594.8 510.7,596.8 511.3,598.8 512.1,600.8 513,602.8 514.2,604.8 515.7,606.8 505.3,615.6 494.8,607 496.2,604.9 497.4,602.9 498.3,600.9 499.1,598.9 499.6,596.9 500,594.9 500.3,592.9 500.5,590.9 500.6,588.9 500.5,586.9 500.4,584.9 500.1,582.8 499.7,580.8 499.2,578.8 498.5,576.8 497.7,574.8 496.6,572.8 495.2,570.8 493.5,568.8 491.4,566.9 488.9,564.9 485.7,562.9 504.7,528.8"/><circle cx="505.3" cy="615.6" r="13.5"/></g>
<g fill="#ffff00" opacity="0.56"><circle cx="64.7" cy="449" r="39"/></g>
<g fill="#202020" opacity="0.39"><circle cx="205" cy="491.1" r="47"/></g>
<g fill="#ff0000" opacity="0.5"><circle cx="80.5" cy="592.7" r="39"/></g>
<circle cx="126.5" cy="55.5" r="54.9" fill="#ee6c60"/>
<circle cx="90.2" cy="159.6" r="22.9" fill="#c24470"/>
<circle cx="279.3" cy="163.4" r="15.9" fill="#ba5a8c"/>
<circle cx="69.6" cy="237.8" r="23.4" fill="#c2426e"/>
<circle cx="493.4" cy="208.3" r="31.4" fill="#5abace"/>
<circle cx="583.1" cy="206" r="23.4" fill="#6ceec8"/>
<circle cx="773.8" cy="52.7" r="31.4" fill="#6868b2"/>
<circle cx="855.5" cy="166.2" r="15.9" fill="#6a68c0"/>
<circle cx="924.4" cy="169.6" r="16.1" fill="#6a68c0"/>
<circle cx="793" cy="309" r="31.7" fill="#b09868"/>
<circle cx="868.7" cy="322.8" r="20.4" fill="#c6b282"/>
<circle cx="697.2" cy="146" r="16.1" fill="#c4b47c"/>
<circle cx="358.4" cy="530.2" r="39.4" fill="#eba0fa"/>
<circle cx="504.7" cy="528.8" r="39.4" fill="#a076d8"/>
<circle cx="710" cy="382.3" r="38.9" fill="#d6c898"/>
<circle cx="867.6" cy="475.8" r="20" fill="#baa05a"/>
<circle cx="752.4" cy="590.2" r="31.7" fill="#acc470"/>
<g><use href="#b" x="103.2" y="21.1"/><use href="#b" x="118.8" y="21.1"/><use href="#b" x="134.3" y="21.1"/><use href="#b" x="149.9" y="21.1"/><use href="#b" x="95.2" y="34.7"/><use href="#b" x="110.8" y="34.7"/><use href="#b" x="126.3" y="34.7"/><use href="#b" x="141.9" y="34.7"/><use href="#b" x="157.4" y="34.7"/><use href="#b" x="87.6" y="48.1"/><use href="#b" x="103.1" y="48.1"/><use href="#b" x="118.7" y="48.1"/><use href="#b" x="134.2" y="48.1"/><use href="#b" x="149.8" y="48.1"/><use href="#b" x="165.3" y="48.1"/><use href="#b" x="79.6" y="61.4"/><use href="#b" x="95.1" y="61.4"/><use href="#b" x="110.7" y="61.4"/><use href="#b" x="126.2" y="61.4"/><use href="#b" x="141.8" y="61.4"/><use href="#b" x="157.3" y="61.4"/><use href="#b" x="172.9" y="61.4"/><use href="#b" x="87.6" y="74.5"/><use href="#b" x="103.1" y="74.5"/><use href="#b" x="118.7" y="74.5"/><use href="#b" x="134.2" y="74.5"/><use href="#b" x="149.8" y="74.5"/><use href="#b" x="110.5" y="87.8"/><use href="#b" x="126" y="87.8"/><use href="#b" x="141.6" y="87.8"/><use href="#b" x="82.6" y="146.4"/><use href="#b" x="98.1" y="146.4"/><use href="#b" x="74.6" y="160.2"/><use href="#b" x="90.1" y="160.2"/><use href="#b" x="105.7" y="160.2"/><use href="#b" x="82.6" y="173.2"/><use href="#b" x="271.4" y="163.4"/><use href="#b" x="286.9" y="163.4"/><use href="#b" x="62" y="224.2"/><use href="#b" x="77.5" y="224.2"/><use href="#b" x="54" y="237.8"/><use href="#b" x="69.5" y="237.8"/><use href="#b" x="85.1" y="237.8"/><use href="#b" x="62" y="251.1"/><use href="#b" x="77.5" y="251.1"/><use href="#b" x="240.6" y="223.6"/><use href="#b" x="126.3" y="347"/><use href="#b" x="119" y="360.4"/><use href="#b" x="134.6" y="360.4"/><use href="#b" x="359.9" y="281.8"/><use href="#b" x="352.2" y="295.2"/><use href="#b" x="367.8" y="295.2"/><use href="#b" x="447.6" y="151.6"/><use href="#b" x="559.9" y="40.6"/><use href="#b" x="552.9" y="53.9"/><use href="#b" x="568.4" y="53.9"/><use href="#b" x="477.6" y="194.7"/><use href="#b" x="493.2" y="194.7"/><use href="#b" x="469.6" y="208.2"/><use href="#b" x="485.2" y="208.2"/><use href="#b" x="500.7" y="208.2"/><use href="#b" x="516.2" y="208.2"/><use href="#b" x="477.6" y="221.5"/><use href="#b" x="493.2" y="221.5"/><use href="#b" x="575.4" y="198.4"/><use href="#b" x="590.9" y="198.4"/><use href="#b" x="567.4" y="212.2"/><use href="#b" x="582.9" y="212.2"/><use href="#b" x="598.5" y="212.2"/><use href="#b" x="448.8" y="267.4"/><use href="#b" x="566" y="357.3"/><use href="#b" x="581.5" y="357.3"/><use href="#b" x="573.2" y="370.3"/><use href="#b" x="588.8" y="370.3"/><use href="#b" x="757.8" y="38.9"/><use href="#b" x="773.3" y="38.9"/><use href="#b" x="788.9" y="38.9"/><use href="#b" x="749.9" y="52.2"/><use href="#b" x="765.4" y="52.2"/><use href="#b" x="781" y="52.2"/><use href="#b" x="796.5" y="52.2"/><use href="#b" x="757.8" y="65.7"/><use href="#b" x="773.3" y="65.7"/><use href="#b" x="945.6" y="16.3"/><use href="#b" x="961.1" y="16.3"/><use href="#b" x="833.1" y="91"/><use href="#b" x="696.6" y="137.6"/><use href="#b" x="689.4" y="151.4"/><use href="#b" x="704.9" y="151.4"/><use href="#b" x="847.7" y="166.3"/><use href="#b" x="863.2" y="166.3"/><use href="#b" x="916.5" y="169.6"/><use href="#b" x="932" y="169.6"/><use href="#b" x="660.1" y="254.3"/><use href="#b" x="675.6" y="254.3"/><use href="#b" x="667.8" y="267.6"/><use href="#b" x="683.3" y="267.6"/><use href="#b" x="769.9" y="288.2"/><use href="#b" x="785.4" y="288.2"/><use href="#b" x="801" y="288.2"/><use href="#b" x="777.2" y="301.5"/><use href="#b" x="792.8" y="301.5"/><use href="#b" x="808.3" y="301.5"/><use href="#b" x="769.2" y="314.5"/><use href="#b" x="784.8" y="314.5"/><use href="#b" x="800.3" y="314.5"/><use href="#b" x="815.9" y="314.5"/><use href="#b" x="777.2" y="327.8"/><use href="#b" x="792.8" y="327.8"/><use href="#b" x="857" y="316"/><use href="#b" x="872.5" y="316"/><use href="#b" x="864.6" y="329"/><use href="#b" x="880.1" y="329"/><use href="#b" x="950" y="286.9"/><use href="#b" x="965.5" y="286.9"/><use href="#b" x="942" y="300.7"/><use href="#b" x="957.5" y="300.7"/><use href="#b" x="973.1" y="300.7"/><use href="#b" x="49.4" y="422.2"/><use href="#b" x="65" y="422.2"/><use href="#b" x="80.5" y="422.2"/><use href="#b" x="41.5" y="435.7"/><use href="#b" x="57" y="435.7"/><use href="#b" x="72.6" y="435.7"/><use href="#b" x="88.2" y="435.7"/><use href="#b" x="33.5" y="448.5"/><use href="#b" x="49" y="448.5"/><use href="#b" x="64.6" y="448.5"/><use href="#b" x="80.2" y="448.5"/><use href="#b" x="95.7" y="448.5"/><use href="#b" x="41.5" y="462"/><use href="#b" x="57" y="462"/><use href="#b" x="72.6" y="462"/><use href="#b" x="88.2" y="462"/><use href="#b" x="49.4" y="475.3"/><use href="#b" x="65" y="475.3"/><use href="#b" x="80.5" y="475.3"/><use href="#b" x="219.6" y="457"/><use href="#b" x="181.6" y="470.3"/><use href="#b" x="197.2" y="470.3"/><use href="#b" x="212.7" y="470.3"/><use href="#b" x="228.2" y="470.3"/><use href="#b" x="173.6" y="483.6"/><use href="#b" x="189.2" y="483.6"/><use href="#b" x="204.7" y="483.6"/><use href="#b" x="220.2" y="483.6"/><use href="#b" x="235.8" y="483.6"/><use href="#b" x="165.6" y="496.6"/><use href="#b" x="181.2" y="496.6"/><use href="#b" x="196.7" y="496.6"/><use href="#b" x="212.2" y="496.6"/><use href="#b" x="227.8" y="496.6"/><use href="#b" x="243.3" y="496.6"/><use href="#b" x="173.6" y="509.9"/><use href="#b" x="189.2" y="509.9"/><use href="#b" x="204.7" y="509.9"/><use href="#b" x="220.2" y="509.9"/><use href="#b" x="181.2" y="523"/><use href="#b" x="196.8" y="523"/><use href="#b" x="212.3" y="523"/><use href="#b" x="65.4" y="572"/><use href="#b" x="81" y="572"/><use href="#b" x="96.5" y="572"/><use href="#b" x="57.2" y="585.3"/><use href="#b" x="72.8" y="585.3"/><use href="#b" x="88.3" y="585.3"/><use href="#b" x="103.9" y="585.3"/><use href="#b" x="49.2" y="598.4"/><use href="#b" x="64.8" y="598.4"/><use href="#b" x="80.3" y="598.4"/><use href="#b" x="95.9" y="598.4"/><use href="#b" x="111.4" y="598.4"/><use href="#b" x="57.2" y="611.7"/><use href="#b" x="72.8" y="611.7"/><use href="#b" x="88.3" y="611.7"/><use href="#b" x="339.5" y="348.3"/><use href="#b" x="355.1" y="348.3"/><use href="#b" x="370.6" y="348.3"/><use href="#b" x="331.5" y="361.9"/><use href="#b" x="347.1" y="361.9"/><use href="#b" x="362.6" y="361.9"/><use href="#b" x="378.1" y="361.9"/><use href="#b" x="323.5" y="374.7"/><use href="#b" x="339.1" y="374.7"/><use href="#b" x="354.6" y="374.7"/><use href="#b" x="370.1" y="374.7"/><use href="#b" x="385.7" y="374.7"/><use href="#b" x="331.5" y="388.2"/><use href="#b" x="347.1" y="388.2"/><use href="#b" x="362.6" y="388.2"/><use href="#b" x="343.3" y="503.4"/><use href="#b" x="358.9" y="503.4"/><use href="#b" x="374.4" y="503.4"/><use href="#b" x="335.2" y="516.4"/><use href="#b" x="350.8" y="516.4"/><use href="#b" x="366.3" y="516.4"/><use href="#b" x="381.9" y="516.4"/><use href="#b" x="327.2" y="529.7"/><use href="#b" x="342.8" y="529.7"/><use href="#b" x="358.3" y="529.7"/><use href="#b" x="373.9" y="529.7"/><use href="#b" x="389.4" y="529.7"/><use href="#b" x="335.2" y="542.7"/><use href="#b" x="350.8" y="542.7"/><use href="#b" x="366.3" y="542.7"/><use href="#b" x="342.7" y="556"/><use href="#b" x="488.3" y="354.5"/><use href="#b" x="503.9" y="354.5"/><use href="#b" x="480.4" y="367.8"/><use href="#b" x="495.9" y="367.8"/><use href="#b" x="511.5" y="367.8"/><use href="#b" x="488.3" y="381.1"/><use href="#b" x="489.6" y="507.8"/><use href="#b" x="505.2" y="507.8"/><use href="#b" x="520.7" y="507.8"/><use href="#b" x="481.5" y="521.1"/><use href="#b" x="497.1" y="521.1"/><use href="#b" x="512.6" y="521.1"/><use href="#b" x="528.1" y="521.1"/><use href="#b" x="473.5" y="534.7"/><use href="#b" x="489.1" y="534.7"/><use href="#b" x="504.6" y="534.7"/><use href="#b" x="520.1" y="534.7"/><use href="#b" x="535.7" y="534.7"/><use href="#b" x="481.5" y="547.9"/><use href="#b" x="497.1" y="547.9"/><use href="#b" x="512.6" y="547.9"/><use href="#b" x="694.9" y="361.8"/><use href="#b" x="710.4" y="361.8"/><use href="#b" x="726" y="361.8"/><use href="#b" x="686.6" y="375.1"/><use href="#b" x="702.1" y="375.1"/><use href="#b" x="717.7" y="375.1"/><use href="#b" x="733.2" y="375.1"/><use href="#b" x="678.5" y="388.4"/><use href="#b" x="694" y="388.4"/><use href="#b" x="709.6" y="388.4"/><use href="#b" x="725.1" y="388.4"/><use href="#b" x="740.7" y="388.4"/><use href="#b" x="702" y="402"/><use href="#b" x="717.5" y="402"/><use href="#b" x="877.8" y="369.5"/><use href="#b" x="893.3" y="369.5"/><use href="#b" x="636.2" y="435.2"/><use href="#b" x="651.8" y="435.2"/><use href="#b" x="627.9" y="448.5"/><use href="#b" x="643.4" y="448.5"/><use href="#b" x="659" y="448.5"/><use href="#b" x="636.3" y="462"/><use href="#b" x="855.4" y="467.6"/><use href="#b" x="870.9" y="467.6"/><use href="#b" x="862.8" y="481"/><use href="#b" x="878.3" y="481"/><use href="#b" x="743.7" y="569.5"/><use href="#b" x="759.2" y="569.5"/><use href="#b" x="735.8" y="582.6"/><use href="#b" x="751.3" y="582.6"/><use href="#b" x="766.9" y="582.6"/><use href="#b" x="727.9" y="595.9"/><use href="#b" x="743.4" y="595.9"/><use href="#b" x="759" y="595.9"/><use href="#b" x="774.5" y="595.9"/><use href="#b" x="735.9" y="609.1"/><use href="#b" x="751.4" y="609.1"/><use href="#b" x="921" y="587.6"/></g>
<rect x="156.1" y="113.5" width="114.5" height="20.8" rx="10.4" fill="#f8f6ef" fill-opacity="0.62" stroke="#a88c30" stroke-width="1.6"/>
<text class="h" x="163.5" y="128.7" textLength="97.5" lengthAdjust="spacingAndGlyphs">Mizuno, M (39)</text><text class="t" x="163.5" y="128.7" textLength="97.5" lengthAdjust="spacingAndGlyphs">Mizuno, M (39)</text>
<rect x="716.7" y="129.4" width="138.8" height="20.5" rx="10.2" fill="#f1f1f1" fill-opacity="0.62" stroke="#303030" stroke-width="1.6"/>
<text class="h" x="724.1" y="144.5" textLength="121.8" lengthAdjust="spacingAndGlyphs">Pang, Zhiqing (27)</text><text class="t" x="724.1" y="144.5" textLength="121.8" lengthAdjust="spacingAndGlyphs">Pang, Zhiqing (27)</text>
<rect x="847.5" y="241.6" width="114.3" height="20.8" rx="10.4" fill="#f9f5fe" fill-opacity="0.62" stroke="#a860f0" stroke-width="1.6"/>
<text class="h" x="854.9" y="256.8" textLength="97.3" lengthAdjust="spacingAndGlyphs">Gao, Huile (25)</text><text class="t" x="854.9" y="256.8" textLength="97.3" lengthAdjust="spacingAndGlyphs">Gao, Huile (25)</text>
<rect x="308.7" y="200.7" width="127.4" height="20.3" rx="10.2" fill="#eff0fe" fill-opacity="0.62" stroke="#4050f0" stroke-width="1.6"/>
<text class="h" x="316.1" y="215.7" textLength="110.4" lengthAdjust="spacingAndGlyphs">Saito, Ryuta (16)</text><text class="t" x="316.1" y="215.7" textLength="110.4" lengthAdjust="spacingAndGlyphs">Saito, Ryuta (16)</text>
<rect x="634.3" y="494" width="178.8" height="21.1" rx="10.6" fill="#f2fbef" fill-opacity="0.62" stroke="#68d448" stroke-width="1.6"/>
<text class="h" x="641.7" y="509.4" textLength="161.8" lengthAdjust="spacingAndGlyphs">Benoit, Jean-Pierre (35)</text><text class="t" x="641.7" y="509.4" textLength="161.8" lengthAdjust="spacingAndGlyphs">Benoit, Jean-Pierre (35)</text>
<rect x="763.5" y="413.2" width="186.5" height="20.4" rx="10.2" fill="#ffebeb" fill-opacity="0.62" stroke="#f02020" stroke-width="1.6"/>
<text class="h" x="770.9" y="428.2" textLength="169.5" lengthAdjust="spacingAndGlyphs">Passirani, Catherine (20)</text><text class="t" x="770.9" y="428.2" textLength="169.5" lengthAdjust="spacingAndGlyphs">Passirani, Catherine (20)</text>
<rect x="685.1" y="211.3" width="139.4" height="20.6" rx="10.3" fill="#efead8" fill-opacity="0.62" stroke="#a88c30" stroke-width="1.6"/>
<text class="h" x="692.5" y="226.4" textLength="122.4" lengthAdjust="spacingAndGlyphs">Jiang, Xinguo (36)</text><text class="t" x="692.5" y="226.4" textLength="122.4" lengthAdjust="spacingAndGlyphs">Jiang, Xinguo (36)</text>
<rect x="781.8" y="526.9" width="180" height="20.3" rx="10.2" fill="#efead8" fill-opacity="0.62" stroke="#a88c30" stroke-width="1.6"/>
<text class="h" x="789.2" y="541.8" textLength="163" lengthAdjust="spacingAndGlyphs">Garcion, Emmanuel (16)</text><text class="t" x="789.2" y="541.8" textLength="163" lengthAdjust="spacingAndGlyphs">Garcion, Emmanuel (16)</text>
<rect x="31.8" y="266.9" width="213.4" height="20.8" rx="10.4" fill="#dddffd" fill-opacity="0.62" stroke="#4050f0" stroke-width="1.6"/>
<text class="h" x="39.2" y="282.1" textLength="196.4" lengthAdjust="spacingAndGlyphs">Wakabayashi, Toshihiko (17)</text><text class="t" x="39.2" y="282.1" textLength="196.4" lengthAdjust="spacingAndGlyphs">Wakabayashi, Toshihiko (17)</text>
<rect x="102.2" y="185.3" width="132.9" height="20.4" rx="10.2" fill="#ffd9d9" fill-opacity="0.62" stroke="#f02020" stroke-width="1.6"/>
<text class="h" x="109.6" y="200.3" textLength="115.9" lengthAdjust="spacingAndGlyphs">Yoshida, Jun (46)</text><text class="t" x="109.6" y="200.3" textLength="115.9" lengthAdjust="spacingAndGlyphs">Yoshida, Jun (46)</text>
<rect x="843.2" y="72.5" width="115.4" height="20.5" rx="10.2" fill="#dddffd" fill-opacity="0.62" stroke="#4050f0" stroke-width="1.6"/>
<text class="h" x="850.6" y="87.5" textLength="98.4" lengthAdjust="spacingAndGlyphs">Chen, Jun (16)</text><text class="t" x="850.6" y="87.5" textLength="98.4" lengthAdjust="spacingAndGlyphs">Chen, Jun (16)</text>
<rect x="470.1" y="117" width="138.9" height="20.9" rx="10.5" fill="#e0fcfc" fill-opacity="0.62" stroke="#40e0e8" stroke-width="1.6"/>
<text class="h" x="477.5" y="132.2" textLength="121.9" lengthAdjust="spacingAndGlyphs">Park, John W (17)</text><text class="t" x="477.5" y="132.2" textLength="121.9" lengthAdjust="spacingAndGlyphs">Park, John W (17)</text>
<rect x="445.6" y="278.5" width="195.9" height="21.6" rx="10.8" fill="#e5f8e0" fill-opacity="0.62" stroke="#60d040" stroke-width="1.6"/>
<text class="h" x="453" y="294.1" textLength="178.9" lengthAdjust="spacingAndGlyphs">Bankiewicz, Krystof S (18)</text><text class="t" x="453" y="294.1" textLength="178.9" lengthAdjust="spacingAndGlyphs">Bankiewicz, Krystof S (18)</text>
<rect x="276" y="453.4" width="161.5" height="20.3" rx="10.2" fill="#ffe8ff" fill-opacity="0.62" stroke="#ff96ff" stroke-width="1.6"/>
<text class="h" x="283.4" y="468.3" textLength="144.5" lengthAdjust="spacingAndGlyphs">Kopelman, Raoul (31)</text><text class="t" x="283.4" y="468.3" textLength="144.5" lengthAdjust="spacingAndGlyphs">Kopelman, Raoul (31)</text>
<rect x="279.3" y="582.6" width="164.5" height="20.5" rx="10.2" fill="#e9dafb" fill-opacity="0.62" stroke="#a060f0" stroke-width="1.6"/>
<text class="h" x="286.7" y="597.6" textLength="147.5" lengthAdjust="spacingAndGlyphs">Philbert, Martin A (16)</text><text class="t" x="286.7" y="597.6" textLength="147.5" lengthAdjust="spacingAndGlyphs">Philbert, Martin A (16)</text>
<rect x="433.6" y="427.6" width="130.1" height="20.8" rx="10.4" fill="#e5f8e0" fill-opacity="0.62" stroke="#60d040" stroke-width="1.6"/>
<text class="h" x="441" y="442.8" textLength="113.1" lengthAdjust="spacingAndGlyphs">Barth, Rolf F (21)</text><text class="t" x="441" y="442.8" textLength="113.1" lengthAdjust="spacingAndGlyphs">Barth, Rolf F (21)</text>
<rect x="438" y="605.5" width="138.5" height="20.3" rx="10.1" fill="#e9dafb" fill-opacity="0.62" stroke="#a060f0" stroke-width="1.6"/>
<text class="h" x="445.4" y="620.4" textLength="121.5" lengthAdjust="spacingAndGlyphs">Yang, Weilian (15)</text><text class="t" x="445.4" y="620.4" textLength="121.5" lengthAdjust="spacingAndGlyphs">Yang, Weilian (15)</text>
<rect x="1.8" y="384.3" width="133.1" height="20.3" rx="10.2" fill="#ffffd4" fill-opacity="0.62" stroke="#ffff60" stroke-width="1.6"/>
<text class="h" x="9.2" y="399.3" textLength="116.1" lengthAdjust="spacingAndGlyphs">Zhang, Miqin (19)</text><text class="t" x="9.2" y="399.3" textLength="116.1" lengthAdjust="spacingAndGlyphs">Zhang, Miqin (19)</text>
<rect x="135.4" y="410.6" width="145.1" height="20.8" rx="10.4" fill="#e5e5e5" fill-opacity="0.62" stroke="#202020" stroke-width="1.6"/>
<text class="h" x="142.8" y="425.8" textLength="128.1" lengthAdjust="spacingAndGlyphs">Kreuter, Joerg (23)</text><text class="t" x="142.8" y="425.8" textLength="128.1" lengthAdjust="spacingAndGlyphs">Kreuter, Joerg (23)</text>
<rect x="3.5" y="525.4" width="142.7" height="21.1" rx="10.6" fill="#ffd9d9" fill-opacity="0.62" stroke="#f02020" stroke-width="1.6"/>
<text class="h" x="10.9" y="540.8" textLength="125.7" lengthAdjust="spacingAndGlyphs">Yang, Victor C (15)</text><text class="t" x="10.9" y="540.8" textLength="125.7" lengthAdjust="spacingAndGlyphs">Yang, Victor C (15)</text>
<rect x="986.6" y="574.6" width="37.4" height="63.4" fill="#1670d2"/>
<path fill="#fff" fill-rule="evenodd" d="M991.5 623L999.6 579L1011 579L1019 623L1010.4 623L1009.2 613.2L1001.3 613.2L1000.1 623ZM1002.3 606.5L1005.3 587.5L1008.3 606.5Z"/>
<text x="989.2" y="634.7" style="font-size:11.2px;fill:#fff;stroke:#fff;stroke-width:0.3px" textLength="32.2" lengthAdjust="spacingAndGlyphs">ADUNA</text>
</svg>
</body></html>
